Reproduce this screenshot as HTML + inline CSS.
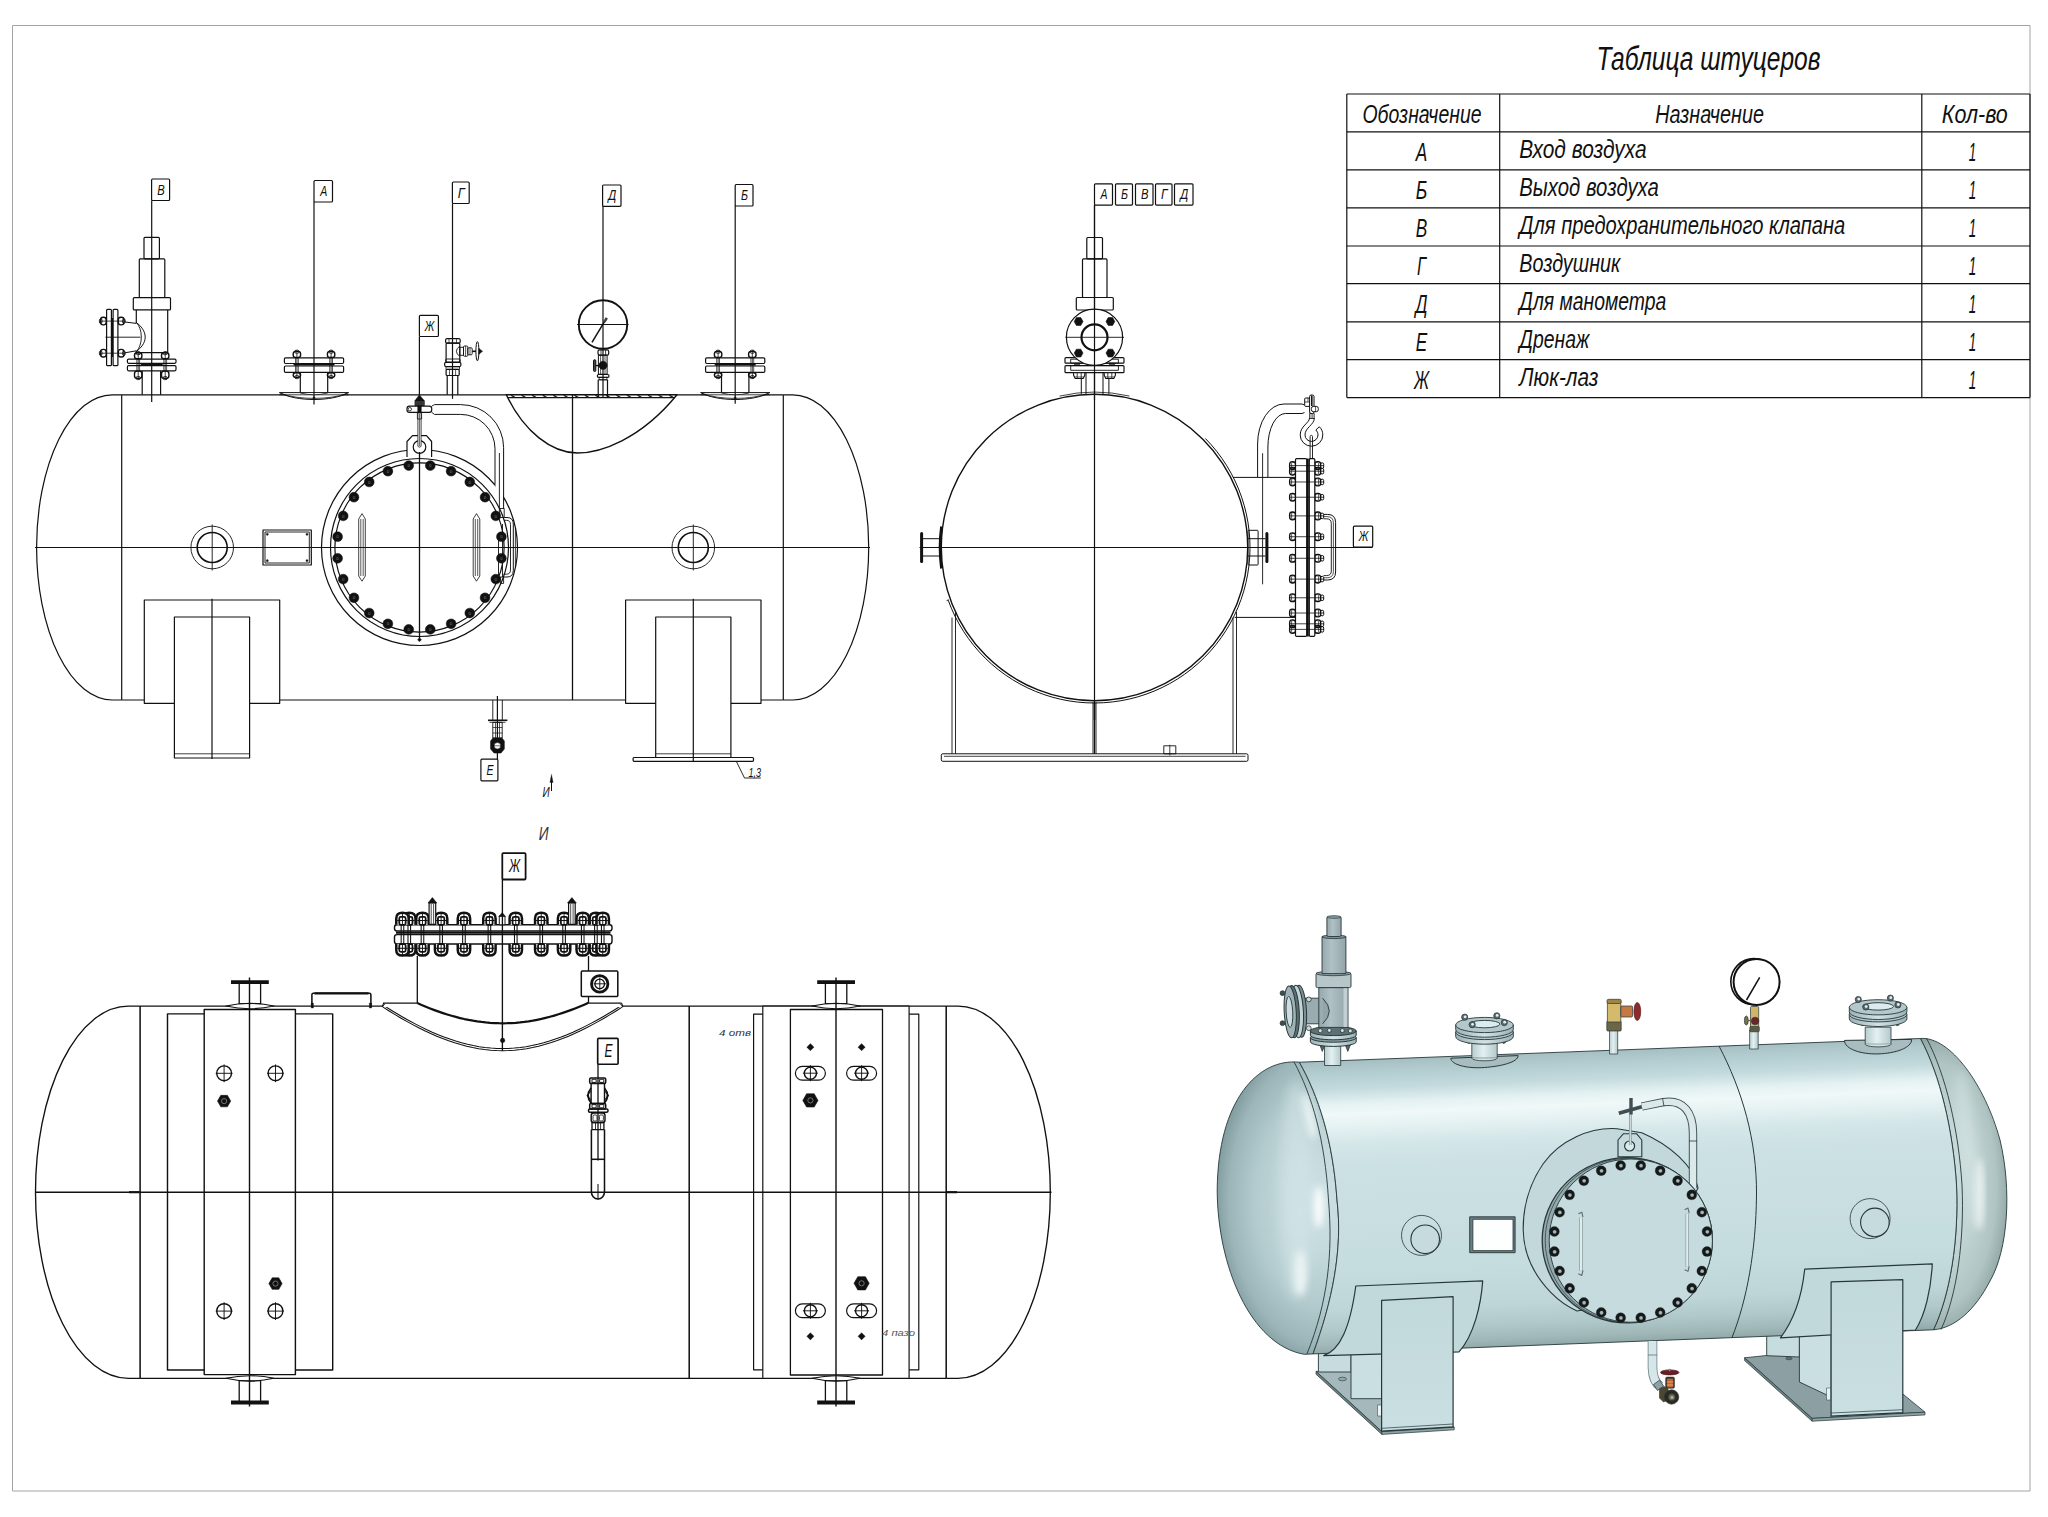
<!DOCTYPE html>
<html><head><meta charset="utf-8"><title>Чертёж</title>
<style>
html,body{margin:0;padding:0;background:#fff;}
body{width:2048px;height:1517px;overflow:hidden;}
svg{display:block;}
svg text{font-family:"Liberation Sans",sans-serif;font-style:italic;fill:#111;stroke:none;}
</style></head><body>
<svg width="2048" height="1517" viewBox="0 0 2048 1517">
<rect x="0" y="0" width="2048" height="1517" fill="#fff" stroke="none"/>
<defs>
<linearGradient id="gBody" gradientUnits="userSpaceOnUse" x1="1610" y1="1049" x2="1622" y2="1343">
<stop offset="0" stop-color="#a3bdc1"/><stop offset="0.04" stop-color="#b1cbcf"/><stop offset="0.10" stop-color="#c4dbde"/>
<stop offset="0.148" stop-color="#e4f1f2"/><stop offset="0.184" stop-color="#f0f8f8"/><stop offset="0.235" stop-color="#e3f0f1"/><stop offset="0.29" stop-color="#d3e6e8"/><stop offset="0.365" stop-color="#cce1e4"/>
<stop offset="0.51" stop-color="#c9dfe2"/><stop offset="0.73" stop-color="#c5dcdf"/><stop offset="0.85" stop-color="#bfd6d8"/><stop offset="0.92" stop-color="#b1c8ca"/><stop offset="0.97" stop-color="#a0b7b8"/><stop offset="1" stop-color="#90a7a7"/>
</linearGradient>
<radialGradient id="gHeadL" gradientUnits="userSpaceOnUse" cx="1322" cy="1200" r="135" gradientTransform="translate(1322 1200) scale(0.8 1.25) translate(-1322 -1200)">
<stop offset="0" stop-color="#cde1e4"/><stop offset="0.3" stop-color="#c4dadd"/><stop offset="0.62" stop-color="#b3cbce"/><stop offset="0.86" stop-color="#9bb5b8"/><stop offset="1" stop-color="#7f9a9d"/>
</radialGradient>
<radialGradient id="gHeadR" gradientUnits="userSpaceOnUse" cx="1940" cy="1185" r="120" gradientTransform="translate(1940 1185) scale(0.6 1.3) translate(-1940 -1185)">
<stop offset="0" stop-color="#cbdedf"/><stop offset="0.45" stop-color="#c2d5d4"/><stop offset="0.78" stop-color="#b0c5c3"/><stop offset="0.93" stop-color="#97adab"/><stop offset="1" stop-color="#7f9593"/>
</radialGradient>
<linearGradient id="gPipe" x1="0" y1="0" x2="1" y2="0"><stop offset="0" stop-color="#b8cdd0"/><stop offset="0.45" stop-color="#e4f0f1"/><stop offset="1" stop-color="#b4c9cc"/></linearGradient>
<linearGradient id="gValve" x1="0" y1="0" x2="1" y2="0"><stop offset="0" stop-color="#8b9da1"/><stop offset="0.4" stop-color="#aebfc3"/><stop offset="1" stop-color="#85979b"/></linearGradient>
<linearGradient id="gValve2" x1="0" y1="0" x2="1" y2="0"><stop offset="0" stop-color="#96a8ad"/><stop offset="0.4" stop-color="#b0c1c5"/><stop offset="1" stop-color="#93a5aa"/></linearGradient>
<linearGradient id="gFl" x1="0" y1="0" x2="1" y2="0"><stop offset="0" stop-color="#9db1b4"/><stop offset="0.5" stop-color="#d3e2e4"/><stop offset="1" stop-color="#9db1b4"/></linearGradient>
<linearGradient id="gLeg" x1="0" y1="0" x2="0" y2="1"><stop offset="0" stop-color="#c2d9dc"/><stop offset="1" stop-color="#c9dfe2"/></linearGradient>
<filter id="blur3" x="-50%" y="-50%" width="200%" height="200%"><feGaussianBlur stdDeviation="3.5"/></filter>
<filter id="blur6" x="-50%" y="-50%" width="200%" height="200%"><feGaussianBlur stdDeviation="6"/></filter>
<clipPath id="cHeadL"><path d="M1299.4,1062.2 C1258,1058 1218,1100 1217.2,1190 C1217.4,1265 1250,1345 1304.3,1354.3 L1313,1353.9 C1332,1302 1343,1250 1337,1200 C1333,1140 1318,1095 1299.4,1062.2 Z"/></clipPath>
<clipPath id="cHeadR"><path d="M1920.4,1038.5 C1950,1036 1985,1085 2000,1140 C2012,1190 2008,1250 1990,1281 C1975,1310 1955,1328 1933.5,1329.8 C1950,1295 1959,1240 1956.5,1185 C1953,1130 1940,1075 1920.4,1038.5 Z"/></clipPath>
</defs>
<g fill="none" stroke="#111" stroke-width="1.2" stroke-linecap="butt" stroke-linejoin="round">
<rect x="12.5" y="25.5" width="2017.5" height="1465.5" stroke="#9a9a9a" stroke-width="0.9"/>
<path d="M121.7,394.8 H112.2 A75.6,152.6 0 0 0 112.2,700.0 H121.7"/>
<path d="M783.3,394.8 H792.8 A75.9,152.6 0 0 1 792.8,700.0 H783.3"/>
<line x1="121.70" y1="394.80" x2="783.30" y2="394.80"/>
<line x1="121.70" y1="700.00" x2="783.30" y2="700.00"/>
<line x1="121.70" y1="394.80" x2="121.70" y2="700.00"/>
<line x1="783.30" y1="394.80" x2="783.30" y2="700.00"/>
<line x1="572.50" y1="394.80" x2="572.50" y2="700.00" stroke-width="1.30"/>
<line x1="35.00" y1="547.50" x2="870.00" y2="547.50"/>
<rect x="144.30" y="600.00" width="135.40" height="103.30" fill="#fff"/>
<rect x="174.40" y="617.00" width="75.20" height="141.00" fill="#fff"/>
<line x1="174.40" y1="753.80" x2="249.60" y2="753.80" stroke-width="0.80"/>
<line x1="212.00" y1="598.80" x2="212.00" y2="759.00"/>
<rect x="625.60" y="600.00" width="135.40" height="103.30" fill="#fff"/>
<rect x="655.70" y="617.00" width="75.20" height="141.00" fill="#fff"/>
<line x1="655.70" y1="753.80" x2="730.90" y2="753.80" stroke-width="0.80"/>
<line x1="693.30" y1="598.80" x2="693.30" y2="762.00"/>
<rect x="633.10" y="757.50" width="120.40" height="3.80" fill="#fff" rx="1"/>
<line x1="693.30" y1="757.00" x2="693.30" y2="762.00"/>
<path d="M736.3,761.3 L744.5,778 H760.8" stroke-width="0.90"/>
<text x="748.4" y="776.8" font-size="12.6" text-anchor="start" textLength="12.6" lengthAdjust="spacingAndGlyphs">1,3</text>
<circle cx="212.20" cy="547.50" r="21.30" stroke-width="0.90"/>
<circle cx="212.20" cy="547.50" r="15.00" stroke-width="1.60"/>
<line x1="212.20" y1="524.50" x2="212.20" y2="570.50" stroke-width="0.90"/>
<circle cx="693.30" cy="547.50" r="21.30" stroke-width="0.90"/>
<circle cx="693.30" cy="547.50" r="15.00" stroke-width="1.60"/>
<line x1="693.30" y1="524.50" x2="693.30" y2="570.50" stroke-width="0.90"/>
<rect x="263.00" y="530.00" width="48.30" height="35.00"/>
<rect x="265.00" y="532.00" width="44.30" height="31.00" stroke-width="0.90"/>
<circle cx="267.30" cy="534.30" r="1.10" stroke-width="0.30" fill="#111"/>
<circle cx="307.00" cy="534.30" r="1.10" stroke-width="0.30" fill="#111"/>
<circle cx="267.30" cy="560.70" r="1.10" stroke-width="0.30" fill="#111"/>
<circle cx="307.00" cy="560.70" r="1.10" stroke-width="0.30" fill="#111"/>
<circle cx="419.50" cy="547.50" r="98.00" fill="#fff"/>
<circle cx="419.50" cy="547.50" r="89.00"/>
<circle cx="419.50" cy="547.50" r="84.60"/>
<line x1="321.00" y1="547.50" x2="518.00" y2="547.50"/>
<path d="M495.4,448 H503.2 V500.2 L495.4,487 Z" fill="#fff" stroke="none"/>
<path d="M434.5,404.6 H460.6 A43,43 0 0 1 503.6,447.6 V508.5 M434.5,414.4 H460.6 A34.4,34.4 0 0 1 495,448.8 V484.7" stroke-width="1.00"/>
<line x1="499.40" y1="453.00" x2="499.40" y2="508.50" stroke-width="0.90"/>
<rect x="499.40" y="508.50" width="4.80" height="9.00" stroke-width="0.90"/>
<path d="M504.2,517.5 H507 Q513.3,517.5 513.3,524 V570.5 Q513.3,577 507,577 H503.6" stroke-width="1.00"/>
<path d="M504.2,520.3 H506.4 Q510.5,520.3 510.5,524.6 V570 Q510.5,574.2 506.4,574.2 H503.6" stroke-width="0.90"/>
<line x1="515.40" y1="528.00" x2="515.40" y2="567.00" stroke-width="0.80"/>
<path d="M498.5,536 V581 M502.5,524 V577" stroke-width="0.90"/>
<rect x="500.30" y="577.00" width="3.30" height="6.40" stroke-width="0.90"/>
<path d="M407,457 V441.5 L412.5,435.6 H426.5 L431.6,441.5 V457" fill="#fff"/>
<circle cx="419.50" cy="447.00" r="6.30" stroke-width="1.20"/>
<path d="M417.9,414 V446 A1.7,1.7 0 0 0 421.1,446 V414" stroke-width="0.80" fill="#fff"/>
<line x1="419.50" y1="414.00" x2="419.50" y2="446.00" stroke-width="0.60"/>
<circle cx="430.28" cy="465.61" r="4.90" stroke-width="0.50" fill="#111"/>
<text x="430.3" y="467.2" font-size="4.5" text-anchor="middle" style="fill:#777;font-style:normal">o</text>
<circle cx="451.11" cy="471.19" r="4.90" stroke-width="0.50" fill="#111"/>
<text x="451.1" y="472.8" font-size="4.5" text-anchor="middle" style="fill:#777;font-style:normal">o</text>
<circle cx="469.78" cy="481.97" r="4.90" stroke-width="0.50" fill="#111"/>
<text x="469.8" y="483.6" font-size="4.5" text-anchor="middle" style="fill:#777;font-style:normal">o</text>
<circle cx="485.03" cy="497.22" r="4.90" stroke-width="0.50" fill="#111"/>
<text x="485.0" y="498.8" font-size="4.5" text-anchor="middle" style="fill:#777;font-style:normal">o</text>
<circle cx="495.81" cy="515.89" r="4.90" stroke-width="0.50" fill="#111"/>
<text x="495.8" y="517.5" font-size="4.5" text-anchor="middle" style="fill:#777;font-style:normal">o</text>
<circle cx="501.39" cy="536.72" r="4.90" stroke-width="0.50" fill="#111"/>
<text x="501.4" y="538.3" font-size="4.5" text-anchor="middle" style="fill:#777;font-style:normal">o</text>
<circle cx="501.39" cy="558.28" r="4.90" stroke-width="0.50" fill="#111"/>
<text x="501.4" y="559.9" font-size="4.5" text-anchor="middle" style="fill:#777;font-style:normal">o</text>
<circle cx="495.81" cy="579.11" r="4.90" stroke-width="0.50" fill="#111"/>
<text x="495.8" y="580.7" font-size="4.5" text-anchor="middle" style="fill:#777;font-style:normal">o</text>
<circle cx="485.03" cy="597.78" r="4.90" stroke-width="0.50" fill="#111"/>
<text x="485.0" y="599.4" font-size="4.5" text-anchor="middle" style="fill:#777;font-style:normal">o</text>
<circle cx="469.78" cy="613.03" r="4.90" stroke-width="0.50" fill="#111"/>
<text x="469.8" y="614.6" font-size="4.5" text-anchor="middle" style="fill:#777;font-style:normal">o</text>
<circle cx="451.11" cy="623.81" r="4.90" stroke-width="0.50" fill="#111"/>
<text x="451.1" y="625.4" font-size="4.5" text-anchor="middle" style="fill:#777;font-style:normal">o</text>
<circle cx="430.28" cy="629.39" r="4.90" stroke-width="0.50" fill="#111"/>
<text x="430.3" y="631.0" font-size="4.5" text-anchor="middle" style="fill:#777;font-style:normal">o</text>
<circle cx="408.72" cy="629.39" r="4.90" stroke-width="0.50" fill="#111"/>
<text x="408.7" y="631.0" font-size="4.5" text-anchor="middle" style="fill:#777;font-style:normal">o</text>
<circle cx="387.89" cy="623.81" r="4.90" stroke-width="0.50" fill="#111"/>
<text x="387.9" y="625.4" font-size="4.5" text-anchor="middle" style="fill:#777;font-style:normal">o</text>
<circle cx="369.22" cy="613.03" r="4.90" stroke-width="0.50" fill="#111"/>
<text x="369.2" y="614.6" font-size="4.5" text-anchor="middle" style="fill:#777;font-style:normal">o</text>
<circle cx="353.97" cy="597.78" r="4.90" stroke-width="0.50" fill="#111"/>
<text x="354.0" y="599.4" font-size="4.5" text-anchor="middle" style="fill:#777;font-style:normal">o</text>
<circle cx="343.19" cy="579.11" r="4.90" stroke-width="0.50" fill="#111"/>
<text x="343.2" y="580.7" font-size="4.5" text-anchor="middle" style="fill:#777;font-style:normal">o</text>
<circle cx="337.61" cy="558.28" r="4.90" stroke-width="0.50" fill="#111"/>
<text x="337.6" y="559.9" font-size="4.5" text-anchor="middle" style="fill:#777;font-style:normal">o</text>
<circle cx="337.61" cy="536.72" r="4.90" stroke-width="0.50" fill="#111"/>
<text x="337.6" y="538.3" font-size="4.5" text-anchor="middle" style="fill:#777;font-style:normal">o</text>
<circle cx="343.19" cy="515.89" r="4.90" stroke-width="0.50" fill="#111"/>
<text x="343.2" y="517.5" font-size="4.5" text-anchor="middle" style="fill:#777;font-style:normal">o</text>
<circle cx="353.97" cy="497.22" r="4.90" stroke-width="0.50" fill="#111"/>
<text x="354.0" y="498.8" font-size="4.5" text-anchor="middle" style="fill:#777;font-style:normal">o</text>
<circle cx="369.22" cy="481.97" r="4.90" stroke-width="0.50" fill="#111"/>
<text x="369.2" y="483.6" font-size="4.5" text-anchor="middle" style="fill:#777;font-style:normal">o</text>
<circle cx="387.89" cy="471.19" r="4.90" stroke-width="0.50" fill="#111"/>
<text x="387.9" y="472.8" font-size="4.5" text-anchor="middle" style="fill:#777;font-style:normal">o</text>
<circle cx="408.72" cy="465.61" r="4.90" stroke-width="0.50" fill="#111"/>
<text x="408.7" y="467.2" font-size="4.5" text-anchor="middle" style="fill:#777;font-style:normal">o</text>
<line x1="419.50" y1="452.00" x2="419.50" y2="640.00" stroke-width="1.30"/>
<path d="M419.5,637.8 l2,2 l-2,2 l-2,-2 z" stroke-width="0.40" fill="#111"/>
<path d="M358.7,519 L362,513.6 L365.3,519 V576 L362,581.2 L358.7,576 Z" stroke-width="0.80"/>
<line x1="360.80" y1="519.00" x2="360.80" y2="576.00" stroke-width="0.70"/>
<line x1="363.20" y1="519.00" x2="363.20" y2="576.00" stroke-width="0.70"/>
<path d="M473.2,519 L476.5,513.6 L479.8,519 V576 L476.5,581.2 L473.2,576 Z" stroke-width="0.80"/>
<line x1="475.30" y1="519.00" x2="475.30" y2="576.00" stroke-width="0.70"/>
<line x1="477.70" y1="519.00" x2="477.70" y2="576.00" stroke-width="0.70"/>
<path d="M419.4,394.7 L423,399.3 L424.4,400.6 V405.8 H414.9 V400.6 L416,399.3 Z" stroke-width="0.50" fill="#111"/>
<line x1="415.20" y1="402.00" x2="424.20" y2="402.00" stroke-width="0.50" stroke="#aaa"/>
<line x1="415.20" y1="404.00" x2="424.20" y2="404.00" stroke-width="0.50" stroke="#aaa"/>
<rect x="407.00" y="406.20" width="24.70" height="6.10" fill="#fff" rx="2.4"/>
<circle cx="409.80" cy="409.20" r="1.70" stroke-width="0.80"/>
<path d="M431.7,406.2 L434.5,404.6 M431.7,412.3 L434.5,414.4" stroke-width="0.90"/>
<rect x="417.60" y="405.80" width="3.80" height="7.20" stroke-width="0.30" fill="#111"/>
<rect x="417.40" y="413.00" width="4.20" height="6.00" stroke-width="0.80"/>
<path d="M506.3,394.8 H677 C640,440 600,453 577.5,453 C552,453 524,432 506.3,394.8 Z" stroke-width="1.40" fill="#fff"/>
<path d="M507.6,397.6 H674.8" stroke-width="1.10"/>
<line x1="511.00" y1="395.20" x2="514.80" y2="397.30" stroke-width="1.50" stroke="#222"/>
<line x1="521.55" y1="395.20" x2="525.35" y2="397.30" stroke-width="1.50" stroke="#222"/>
<line x1="532.10" y1="395.20" x2="535.90" y2="397.30" stroke-width="1.50" stroke="#222"/>
<line x1="542.65" y1="395.20" x2="546.45" y2="397.30" stroke-width="1.50" stroke="#222"/>
<line x1="553.20" y1="395.20" x2="557.00" y2="397.30" stroke-width="1.50" stroke="#222"/>
<line x1="563.75" y1="395.20" x2="567.55" y2="397.30" stroke-width="1.50" stroke="#222"/>
<line x1="574.30" y1="395.20" x2="578.10" y2="397.30" stroke-width="1.50" stroke="#222"/>
<line x1="584.85" y1="395.20" x2="588.65" y2="397.30" stroke-width="1.50" stroke="#222"/>
<line x1="595.40" y1="395.20" x2="599.20" y2="397.30" stroke-width="1.50" stroke="#222"/>
<line x1="605.95" y1="395.20" x2="609.75" y2="397.30" stroke-width="1.50" stroke="#222"/>
<line x1="616.50" y1="395.20" x2="620.30" y2="397.30" stroke-width="1.50" stroke="#222"/>
<line x1="627.05" y1="395.20" x2="630.85" y2="397.30" stroke-width="1.50" stroke="#222"/>
<line x1="637.60" y1="395.20" x2="641.40" y2="397.30" stroke-width="1.50" stroke="#222"/>
<line x1="648.15" y1="395.20" x2="651.95" y2="397.30" stroke-width="1.50" stroke="#222"/>
<line x1="658.70" y1="395.20" x2="662.50" y2="397.30" stroke-width="1.50" stroke="#222"/>
<line x1="669.25" y1="395.20" x2="673.05" y2="397.30" stroke-width="1.50" stroke="#222"/>
<line x1="572.50" y1="394.80" x2="572.50" y2="453.00" stroke-width="1.30"/>
<rect x="144.00" y="237.30" width="15.40" height="21.50" rx="1"/>
<rect x="139.30" y="258.80" width="25.50" height="38.70" rx="1"/>
<rect x="133.30" y="297.60" width="37.20" height="12.30" rx="1"/>
<path d="M136.3,309.9 V323 M136.3,351 V352.6 H167.7 V309.9"/>
<path d="M136.3,322.5 C141,326 145.2,331 145.2,337.2 C145.2,343 141,348 136.3,351.5" stroke-width="1.00"/>
<path d="M136.3,322.5 C143,329 143,345 136.3,351.5" stroke-width="0.90"/>
<line x1="105.40" y1="337.20" x2="140.40" y2="337.20" stroke-width="0.90"/>
<path d="M125,322 L136.3,323.4 M125,352.8 L136.3,350.8" stroke-width="1.00"/>
<rect x="106.60" y="309.30" width="4.80" height="56.40" rx="1"/>
<rect x="113.10" y="309.30" width="4.80" height="56.40" rx="1"/>
<line x1="112.20" y1="318.00" x2="112.20" y2="357.00" stroke-width="1.80"/>
<line x1="99.50" y1="321.10" x2="125.00" y2="321.10" stroke-width="0.80"/>
<rect x="100.60" y="317.30" width="5.60" height="7.60" stroke-width="1.40" rx="2.6"/>
<rect x="118.30" y="317.30" width="5.70" height="7.60" stroke-width="1.40" rx="2.6"/>
<rect x="99.40" y="318.90" width="2.60" height="4.40" stroke-width="0.90" rx="1.3"/>
<rect x="122.60" y="318.90" width="2.60" height="4.40" stroke-width="0.90" rx="1.3"/>
<line x1="99.50" y1="353.20" x2="125.00" y2="353.20" stroke-width="0.80"/>
<rect x="100.60" y="349.40" width="5.60" height="7.60" stroke-width="1.40" rx="2.6"/>
<rect x="118.30" y="349.40" width="5.70" height="7.60" stroke-width="1.40" rx="2.6"/>
<rect x="99.40" y="351.00" width="2.60" height="4.40" stroke-width="0.90" rx="1.3"/>
<rect x="122.60" y="351.00" width="2.60" height="4.40" stroke-width="0.90" rx="1.3"/>
<path d="M142.2,370.8 V394.8 M160.6,370.8 V394.8"/>
<rect x="127.40" y="359.10" width="48.60" height="4.20" fill="#fff" rx="1.2"/>
<rect x="127.40" y="365.70" width="48.60" height="5.10" fill="#fff" rx="1.2"/>
<line x1="140.70" y1="364.50" x2="162.70" y2="364.50" stroke-width="1.70"/>
<line x1="138.20" y1="351.60" x2="138.20" y2="379.60" stroke-width="0.80"/>
<rect x="134.50" y="352.80" width="7.40" height="6.00" stroke-width="1.40" rx="2.6"/>
<rect x="134.50" y="371.10" width="7.40" height="7.30" stroke-width="1.40" rx="2.6"/>
<rect x="136.00" y="351.60" width="4.40" height="3.00" stroke-width="0.90" rx="1.5"/>
<rect x="136.00" y="376.60" width="4.40" height="3.00" stroke-width="0.90" rx="1.5"/>
<line x1="136.80" y1="359.10" x2="136.80" y2="370.80" stroke-width="0.70"/>
<line x1="139.60" y1="359.10" x2="139.60" y2="370.80" stroke-width="0.70"/>
<line x1="165.20" y1="351.60" x2="165.20" y2="379.60" stroke-width="0.80"/>
<rect x="161.50" y="352.80" width="7.40" height="6.00" stroke-width="1.40" rx="2.6"/>
<rect x="161.50" y="371.10" width="7.40" height="7.30" stroke-width="1.40" rx="2.6"/>
<rect x="163.00" y="351.60" width="4.40" height="3.00" stroke-width="0.90" rx="1.5"/>
<rect x="163.00" y="376.60" width="4.40" height="3.00" stroke-width="0.90" rx="1.5"/>
<line x1="163.80" y1="359.10" x2="163.80" y2="370.80" stroke-width="0.70"/>
<line x1="166.60" y1="359.10" x2="166.60" y2="370.80" stroke-width="0.70"/>
<line x1="151.70" y1="200.50" x2="151.70" y2="401.90"/>
<rect x="151.60" y="179.00" width="18.00" height="21.50" fill="#fff" rx="1"/>
<text x="161.1" y="194.5" font-size="15" text-anchor="middle" textLength="7.5" lengthAdjust="spacingAndGlyphs">В</text>
<path d="M300.3,372.4 V393 M327.7,372.4 V393"/>
<path d="M279.4,392.6 H348.6 C332,401.8 296,401.8 279.4,392.6 Z" stroke-width="1.00" fill="#fff"/>
<path d="M281.5,393.6 C298,400 330,400 346.5,393.6" stroke-width="0.80"/>
<line x1="279.40" y1="394.80" x2="348.60" y2="394.80" stroke-width="0.80"/>
<path d="M300.3,393 Q314,396.5 327.7,393" stroke-width="0.80" fill="#fff"/>
<rect x="284.40" y="357.80" width="59.20" height="5.70" fill="#fff" rx="1.2"/>
<rect x="284.40" y="366.00" width="59.20" height="6.40" fill="#fff" rx="1.2"/>
<line x1="293.50" y1="364.75" x2="334.50" y2="364.75" stroke-width="1.70"/>
<line x1="296.90" y1="350.20" x2="296.90" y2="378.60" stroke-width="0.80"/>
<rect x="293.20" y="351.40" width="7.40" height="6.10" stroke-width="1.40" rx="2.6"/>
<rect x="293.20" y="372.70" width="7.40" height="4.70" stroke-width="1.40" rx="2.6"/>
<rect x="294.70" y="350.20" width="4.40" height="3.00" stroke-width="0.90" rx="1.5"/>
<rect x="294.70" y="375.60" width="4.40" height="3.00" stroke-width="0.90" rx="1.5"/>
<line x1="295.50" y1="357.80" x2="295.50" y2="372.40" stroke-width="0.70"/>
<line x1="298.30" y1="357.80" x2="298.30" y2="372.40" stroke-width="0.70"/>
<line x1="331.10" y1="350.20" x2="331.10" y2="378.60" stroke-width="0.80"/>
<rect x="327.40" y="351.40" width="7.40" height="6.10" stroke-width="1.40" rx="2.6"/>
<rect x="327.40" y="372.70" width="7.40" height="4.70" stroke-width="1.40" rx="2.6"/>
<rect x="328.90" y="350.20" width="4.40" height="3.00" stroke-width="0.90" rx="1.5"/>
<rect x="328.90" y="375.60" width="4.40" height="3.00" stroke-width="0.90" rx="1.5"/>
<line x1="329.70" y1="357.80" x2="329.70" y2="372.40" stroke-width="0.70"/>
<line x1="332.50" y1="357.80" x2="332.50" y2="372.40" stroke-width="0.70"/>
<line x1="314.00" y1="201.50" x2="314.00" y2="404.40"/>
<path d="M314,396.5 l1.3,1.3 l-1.3,1.3 l-1.3,-1.3 z" stroke-width="0.30" fill="#111"/>
<rect x="314.00" y="180.50" width="18.50" height="21.50" fill="#fff" rx="1"/>
<text x="323.8" y="196.0" font-size="15" text-anchor="middle" textLength="7.0" lengthAdjust="spacingAndGlyphs">А</text>
<path d="M721.5,372.4 V393 M748.9000000000001,372.4 V393"/>
<path d="M700.6,392.6 H769.8000000000001 C753.2,401.8 717.2,401.8 700.6,392.6 Z" stroke-width="1.00" fill="#fff"/>
<path d="M702.7,393.6 C719.2,400 751.2,400 767.7,393.6" stroke-width="0.80"/>
<line x1="700.60" y1="394.80" x2="769.80" y2="394.80" stroke-width="0.80"/>
<path d="M721.5,393 Q735.2,396.5 748.9000000000001,393" stroke-width="0.80" fill="#fff"/>
<rect x="705.60" y="357.80" width="59.20" height="5.70" fill="#fff" rx="1.2"/>
<rect x="705.60" y="366.00" width="59.20" height="6.40" fill="#fff" rx="1.2"/>
<line x1="714.70" y1="364.75" x2="755.70" y2="364.75" stroke-width="1.70"/>
<line x1="718.10" y1="350.20" x2="718.10" y2="378.60" stroke-width="0.80"/>
<rect x="714.40" y="351.40" width="7.40" height="6.10" stroke-width="1.40" rx="2.6"/>
<rect x="714.40" y="372.70" width="7.40" height="4.70" stroke-width="1.40" rx="2.6"/>
<rect x="715.90" y="350.20" width="4.40" height="3.00" stroke-width="0.90" rx="1.5"/>
<rect x="715.90" y="375.60" width="4.40" height="3.00" stroke-width="0.90" rx="1.5"/>
<line x1="716.70" y1="357.80" x2="716.70" y2="372.40" stroke-width="0.70"/>
<line x1="719.50" y1="357.80" x2="719.50" y2="372.40" stroke-width="0.70"/>
<line x1="752.30" y1="350.20" x2="752.30" y2="378.60" stroke-width="0.80"/>
<rect x="748.60" y="351.40" width="7.40" height="6.10" stroke-width="1.40" rx="2.6"/>
<rect x="748.60" y="372.70" width="7.40" height="4.70" stroke-width="1.40" rx="2.6"/>
<rect x="750.10" y="350.20" width="4.40" height="3.00" stroke-width="0.90" rx="1.5"/>
<rect x="750.10" y="375.60" width="4.40" height="3.00" stroke-width="0.90" rx="1.5"/>
<line x1="750.90" y1="357.80" x2="750.90" y2="372.40" stroke-width="0.70"/>
<line x1="753.70" y1="357.80" x2="753.70" y2="372.40" stroke-width="0.70"/>
<line x1="735.20" y1="205.50" x2="735.20" y2="403.80"/>
<path d="M735.2,396.5 l1.3,1.3 l-1.3,1.3 l-1.3,-1.3 z" stroke-width="0.30" fill="#111"/>
<rect x="735.20" y="184.50" width="17.80" height="21.50" fill="#fff" rx="1"/>
<text x="744.6" y="200.0" font-size="15" text-anchor="middle" textLength="7.0" lengthAdjust="spacingAndGlyphs">Б</text>
<path d="M447.2,375.5 V394.8 M457.8,375.5 V394.8"/>
<rect x="446.10" y="369.40" width="13.10" height="6.10" rx="1"/>
<line x1="449.50" y1="369.40" x2="449.50" y2="375.50" stroke-width="0.70"/>
<line x1="455.60" y1="369.40" x2="455.60" y2="375.50" stroke-width="0.70"/>
<rect x="444.60" y="362.30" width="16.30" height="4.30" rx="1.5"/>
<rect x="446.00" y="366.60" width="13.50" height="2.80" stroke-width="0.80"/>
<rect x="446.10" y="343.20" width="13.70" height="19.10" rx="1"/>
<rect x="445.60" y="338.70" width="14.60" height="4.50" rx="1.5"/>
<line x1="449.00" y1="338.70" x2="449.00" y2="343.20" stroke-width="0.70"/>
<line x1="456.50" y1="338.70" x2="456.50" y2="343.20" stroke-width="0.70"/>
<rect x="445.60" y="359.00" width="14.60" height="3.30" stroke-width="0.90" rx="1.2"/>
<path d="M459.8,346 Q453,351.3 459.8,356.5" stroke-width="0.90"/>
<rect x="459.80" y="347.30" width="3.70" height="8.00" stroke-width="0.90"/>
<rect x="463.50" y="346.00" width="4.30" height="10.30" stroke-width="0.90" rx="1"/>
<rect x="467.80" y="347.80" width="4.40" height="7.00" stroke-width="0.90" rx="1"/>
<line x1="465.60" y1="346.00" x2="465.60" y2="356.30" stroke-width="0.70"/>
<line x1="470.00" y1="347.80" x2="470.00" y2="354.80" stroke-width="0.70"/>
<line x1="472.20" y1="351.30" x2="476.00" y2="351.30" stroke-width="1.60"/>
<ellipse cx="477.4" cy="351.2" rx="1.5" ry="9.6" stroke-width="1"/>
<path d="M478.7,348.2 L482.6,351.3 L478.7,354.4 Z" stroke-width="0.40" fill="#111"/>
<line x1="452.50" y1="203.50" x2="452.50" y2="398.80"/>
<rect x="452.40" y="182.00" width="16.80" height="21.50" fill="#fff" rx="1"/>
<text x="461.3" y="197.5" font-size="15" text-anchor="middle" textLength="7.0" lengthAdjust="spacingAndGlyphs">Г</text>
<circle cx="603.00" cy="324.50" r="24.20" stroke-width="1.90" fill="#fff"/>
<line x1="577.20" y1="324.50" x2="628.60" y2="324.50" stroke-width="1.00"/>
<line x1="592.00" y1="342.30" x2="606.60" y2="318.20" stroke-width="1.50"/>
<line x1="604.40" y1="321.80" x2="606.80" y2="317.80" stroke-width="2.60" stroke="#444"/>
<line x1="603.00" y1="206.00" x2="603.00" y2="398.00"/>
<path d="M598.2,379.8 V397.4 M607.5,379.8 V397.4"/>
<line x1="598.20" y1="397.40" x2="607.50" y2="397.40" stroke-width="0.90"/>
<line x1="598.20" y1="379.80" x2="607.50" y2="379.80" stroke-width="0.90"/>
<rect x="598.00" y="349.90" width="10.70" height="5.30" stroke-width="1.20" rx="1.6"/>
<line x1="601.00" y1="349.90" x2="601.00" y2="355.20" stroke-width="0.80"/>
<line x1="605.60" y1="349.90" x2="605.60" y2="355.20" stroke-width="0.80"/>
<rect x="598.40" y="355.20" width="8.70" height="19.00" stroke-width="1.00"/>
<line x1="600.60" y1="355.20" x2="600.60" y2="374.20" stroke-width="0.70"/>
<line x1="605.00" y1="355.20" x2="605.00" y2="374.20" stroke-width="0.70"/>
<rect x="597.30" y="374.50" width="11.70" height="2.90" stroke-width="1.20" rx="1.4"/>
<rect x="599.20" y="377.40" width="7.70" height="2.40" stroke-width="0.80"/>
<circle cx="603.00" cy="365.40" r="4.20" stroke-width="0.40" fill="#111"/>
<line x1="595.80" y1="365.60" x2="599.00" y2="365.60" stroke-width="1.40"/>
<rect x="593.50" y="359.70" width="2.30" height="11.80" stroke-width="1.00" fill="#444" rx="1.1"/>
<rect x="602.60" y="185.00" width="18.40" height="21.30" fill="#fff" rx="1"/>
<text x="612.3" y="200.3" font-size="15" text-anchor="middle" textLength="8.0" lengthAdjust="spacingAndGlyphs">Д</text>
<line x1="419.40" y1="336.50" x2="419.40" y2="394.90"/>
<rect x="419.40" y="315.30" width="19.00" height="21.20" fill="#fff" rx="1"/>
<text x="429.4" y="330.6" font-size="15" text-anchor="middle" textLength="9.5" lengthAdjust="spacingAndGlyphs">Ж</text>
<path d="M492.8,700 V720 M502.3,700 V720" stroke-width="0.90"/>
<line x1="497.40" y1="696.00" x2="497.40" y2="760.00"/>
<line x1="488.00" y1="720.30" x2="507.40" y2="720.30" stroke-width="1.60"/>
<line x1="489.50" y1="722.30" x2="505.50" y2="722.30" stroke-width="0.80"/>
<rect x="492.80" y="722.30" width="9.40" height="15.70" stroke-width="0.90"/>
<line x1="492.80" y1="727.50" x2="502.20" y2="727.50" stroke-width="0.70"/>
<line x1="492.80" y1="733.00" x2="502.20" y2="733.00" stroke-width="0.70"/>
<line x1="495.50" y1="722.30" x2="495.50" y2="738.00" stroke-width="0.70"/>
<line x1="499.50" y1="722.30" x2="499.50" y2="738.00" stroke-width="0.70"/>
<path d="M490.6,741 L493,738 H502 L504.3,741 V749 L501,753 H494 L490.6,749 Z" stroke-width="0.60" fill="#111"/>
<circle cx="497.40" cy="745.80" r="3.30" stroke-width="0.60" fill="#fff"/>
<line x1="494.10" y1="745.80" x2="500.70" y2="745.80" stroke-width="0.60"/>
<rect x="480.90" y="759.20" width="17.00" height="21.60" fill="#fff" rx="1"/>
<text x="489.9" y="774.8" font-size="15" text-anchor="middle" textLength="7.0" lengthAdjust="spacingAndGlyphs">Е</text>
<line x1="551.50" y1="777.00" x2="551.50" y2="791.00" stroke-width="1.00"/>
<path d="M551.5,774.2 L549.9,782.5 H553.1 Z" stroke-width="0.30" fill="#111"/>
<text x="542.6" y="797.2" font-size="14.6" text-anchor="start" textLength="7.2" lengthAdjust="spacingAndGlyphs">И</text>
<text x="538.8" y="839.8" font-size="18" text-anchor="start" textLength="9.8" lengthAdjust="spacingAndGlyphs" style="fill:#333">И</text>
<line x1="952.00" y1="617.50" x2="952.00" y2="753.80" stroke-width="0.90"/>
<line x1="955.50" y1="612.00" x2="955.50" y2="753.80" stroke-width="0.90"/>
<line x1="1233.00" y1="617.50" x2="1233.00" y2="753.80" stroke-width="0.90"/>
<line x1="1236.50" y1="612.00" x2="1236.50" y2="753.80" stroke-width="0.90"/>
<rect x="941.30" y="753.80" width="306.70" height="7.50" stroke-width="1.00" rx="1.5"/>
<line x1="944.00" y1="756.30" x2="1245.50" y2="756.30" stroke-width="0.80"/>
<rect x="1163.80" y="745.80" width="12.00" height="8.00" stroke-width="0.90"/>
<line x1="1169.80" y1="744.80" x2="1169.80" y2="755.50" stroke-width="0.80"/>
<line x1="1233.00" y1="477.40" x2="1295.00" y2="477.40" stroke-width="1.00"/>
<line x1="1234.60" y1="617.40" x2="1295.00" y2="617.40" stroke-width="1.00"/>
<path d="M1257.6,477 V444 A26.4,40 0 0 1 1284,404 H1302 l2.5,1 M1267.9,477 V447 A17.6,33.5 0 0 1 1285.5,413.5 H1302 l2.5,-1" stroke-width="1.00"/>
<line x1="1262.60" y1="453.20" x2="1262.60" y2="584.30" stroke-width="0.90"/>
<circle cx="1094.50" cy="547.50" r="153.20" stroke-width="1.40" fill="#fff"/>
<path d="M1205.41,438.51 A155.5,155.5 0 1 1 948.19,600.17" stroke-width="1.00"/>
<path d="M948.8,599.8 l-2.2,0.8" stroke-width="0.90"/>
<line x1="1093.00" y1="702.00" x2="1093.00" y2="753.80" stroke-width="0.90"/>
<line x1="1096.00" y1="702.00" x2="1096.00" y2="753.80" stroke-width="0.90"/>
<line x1="1094.50" y1="703.00" x2="1094.50" y2="720.00" stroke-width="1.60"/>
<line x1="919.50" y1="547.50" x2="1372.50" y2="547.50"/>
<line x1="1094.50" y1="205.00" x2="1094.50" y2="753.80"/>
<path d="M941.43,568.47 A154.5,154.5 0 0 1 941.43,526.53" stroke-width="2.60"/>
<path d="M923,538.7 H940.5 M923,556 H940.5" stroke-width="1.00"/>
<line x1="921.6" y1="533.5" x2="921.6" y2="561.5" stroke-width="3" stroke-linecap="round"/>
<rect x="1248.00" y="530.30" width="10.10" height="34.70" stroke-width="1.00" rx="0.8"/>
<path d="M1248,538.7 H1265.5 M1248,556 H1265.5" stroke-width="1.00"/>
<line x1="1266.9" y1="533.5" x2="1266.9" y2="561.5" stroke-width="3" stroke-linecap="round"/>
<rect x="1086.80" y="237.50" width="15.70" height="21.30" rx="1"/>
<rect x="1082.50" y="258.90" width="24.50" height="38.60" rx="1"/>
<rect x="1076.30" y="297.50" width="37.00" height="12.50" rx="1"/>
<rect x="1065.00" y="357.60" width="59.00" height="5.60" fill="#fff" rx="1"/>
<rect x="1065.00" y="365.60" width="59.00" height="7.10" fill="#fff" rx="1"/>
<rect x="1070.70" y="359.20" width="47.70" height="4.00" stroke-width="0.90"/>
<rect x="1070.70" y="365.60" width="47.70" height="4.70" stroke-width="0.90"/>
<rect x="1078.40" y="363.40" width="1.20" height="2.00" stroke-width="0.30" fill="#111"/>
<rect x="1076.40" y="363.40" width="1.20" height="2.00" stroke-width="0.30" fill="#111"/>
<rect x="1074.40" y="363.40" width="1.20" height="2.00" stroke-width="0.30" fill="#111"/>
<rect x="1109.40" y="363.40" width="1.20" height="2.00" stroke-width="0.30" fill="#111"/>
<rect x="1111.40" y="363.40" width="1.20" height="2.00" stroke-width="0.30" fill="#111"/>
<rect x="1113.40" y="363.40" width="1.20" height="2.00" stroke-width="0.30" fill="#111"/>
<path d="M1081.3,372.7 V393.8 M1108.9,372.7 V393.8 M1086,372.7 V394.4 M1103,372.7 V394.4" stroke-width="1.00"/>
<path d="M1073.6000000000001,372.7 h11.2 v2.6 l-1.6,3.2 h-8 l-1.6,-3.2 z" stroke-width="1.10" fill="#fff"/>
<line x1="1077.20" y1="372.70" x2="1077.20" y2="378.50" stroke-width="0.80"/>
<line x1="1081.20" y1="372.70" x2="1081.20" y2="378.50" stroke-width="0.80"/>
<line x1="1074.70" y1="377.00" x2="1083.70" y2="377.00" stroke-width="0.70"/>
<path d="M1104.2,372.7 h11.2 v2.6 l-1.6,3.2 h-8 l-1.6,-3.2 z" stroke-width="1.10" fill="#fff"/>
<line x1="1107.80" y1="372.70" x2="1107.80" y2="378.50" stroke-width="0.80"/>
<line x1="1111.80" y1="372.70" x2="1111.80" y2="378.50" stroke-width="0.80"/>
<line x1="1105.30" y1="377.00" x2="1114.30" y2="377.00" stroke-width="0.70"/>
<circle cx="1094.50" cy="337.30" r="28.10" fill="#fff"/>
<circle cx="1094.50" cy="337.30" r="13.00" stroke-width="2.20"/>
<line x1="1065.40" y1="337.30" x2="1124.00" y2="337.30" stroke-width="0.90"/>
<path d="M1074.1999999999998,321.5 L1076.3999999999999,317.6 L1080.8,317.6 L1083.0,321.5 L1080.8,325.4 L1076.3999999999999,325.4 Z" stroke-width="0.60" fill="#111"/>
<path d="M1074.1999999999998,353.1 L1076.3999999999999,349.20000000000005 L1080.8,349.20000000000005 L1083.0,353.1 L1080.8,357.0 L1076.3999999999999,357.0 Z" stroke-width="0.60" fill="#111"/>
<path d="M1106.0,321.5 L1108.2,317.6 L1112.6000000000001,317.6 L1114.8000000000002,321.5 L1112.6000000000001,325.4 L1108.2,325.4 Z" stroke-width="0.60" fill="#111"/>
<path d="M1106.0,353.1 L1108.2,349.20000000000005 L1112.6000000000001,349.20000000000005 L1114.8000000000002,353.1 L1112.6000000000001,357.0 L1108.2,357.0 Z" stroke-width="0.60" fill="#111"/>
<path d="M1059.54,396.08 A155.39999999999998,155.39999999999998 0 0 1 1129.46,396.08" stroke-width="0.80"/>
<rect x="1094.50" y="183.80" width="18.00" height="21.30" fill="#fff" rx="1"/>
<text x="1104.0" y="199.1" font-size="15" text-anchor="middle" textLength="7.0" lengthAdjust="spacingAndGlyphs">А</text>
<rect x="1115.50" y="183.80" width="17.00" height="21.30" fill="#fff" rx="1"/>
<text x="1124.5" y="199.1" font-size="15" text-anchor="middle" textLength="7.0" lengthAdjust="spacingAndGlyphs">Б</text>
<rect x="1135.50" y="183.80" width="17.50" height="21.30" fill="#fff" rx="1"/>
<text x="1144.8" y="199.1" font-size="15" text-anchor="middle" textLength="7.5" lengthAdjust="spacingAndGlyphs">В</text>
<rect x="1155.50" y="183.80" width="16.50" height="21.30" fill="#fff" rx="1"/>
<text x="1164.2" y="199.1" font-size="15" text-anchor="middle" textLength="6.5" lengthAdjust="spacingAndGlyphs">Г</text>
<rect x="1174.50" y="183.80" width="18.50" height="21.30" fill="#fff" rx="1"/>
<text x="1184.2" y="199.1" font-size="15" text-anchor="middle" textLength="8.0" lengthAdjust="spacingAndGlyphs">Д</text>
<line x1="1289.50" y1="465.61" x2="1324.00" y2="465.61" stroke-width="0.80"/>
<rect x="1289.60" y="461.71" width="5.90" height="7.80" stroke-width="1.30" rx="2.8"/>
<rect x="1291.60" y="462.41" width="3.90" height="6.40" stroke-width="0.70" rx="1"/>
<rect x="1314.80" y="461.71" width="5.80" height="7.80" stroke-width="1.30" rx="2.4"/>
<rect x="1314.80" y="462.41" width="3.80" height="6.40" stroke-width="0.70" rx="1"/>
<rect x="1320.60" y="462.81" width="3.10" height="5.60" stroke-width="1.00" rx="1.5"/>
<line x1="1289.50" y1="471.19" x2="1324.00" y2="471.19" stroke-width="0.80"/>
<rect x="1289.60" y="467.29" width="5.90" height="7.80" stroke-width="1.30" rx="2.8"/>
<rect x="1291.60" y="467.99" width="3.90" height="6.40" stroke-width="0.70" rx="1"/>
<rect x="1314.80" y="467.29" width="5.80" height="7.80" stroke-width="1.30" rx="2.4"/>
<rect x="1314.80" y="467.99" width="3.80" height="6.40" stroke-width="0.70" rx="1"/>
<rect x="1320.60" y="468.39" width="3.10" height="5.60" stroke-width="1.00" rx="1.5"/>
<line x1="1289.50" y1="481.97" x2="1324.00" y2="481.97" stroke-width="0.80"/>
<rect x="1289.60" y="478.07" width="5.90" height="7.80" stroke-width="1.30" rx="2.8"/>
<rect x="1291.60" y="478.77" width="3.90" height="6.40" stroke-width="0.70" rx="1"/>
<rect x="1314.80" y="478.07" width="5.80" height="7.80" stroke-width="1.30" rx="2.4"/>
<rect x="1314.80" y="478.77" width="3.80" height="6.40" stroke-width="0.70" rx="1"/>
<rect x="1320.60" y="479.17" width="3.10" height="5.60" stroke-width="1.00" rx="1.5"/>
<line x1="1289.50" y1="497.22" x2="1324.00" y2="497.22" stroke-width="0.80"/>
<rect x="1289.60" y="493.32" width="5.90" height="7.80" stroke-width="1.30" rx="2.8"/>
<rect x="1291.60" y="494.02" width="3.90" height="6.40" stroke-width="0.70" rx="1"/>
<rect x="1314.80" y="493.32" width="5.80" height="7.80" stroke-width="1.30" rx="2.4"/>
<rect x="1314.80" y="494.02" width="3.80" height="6.40" stroke-width="0.70" rx="1"/>
<rect x="1320.60" y="494.42" width="3.10" height="5.60" stroke-width="1.00" rx="1.5"/>
<line x1="1289.50" y1="515.89" x2="1324.00" y2="515.89" stroke-width="0.80"/>
<rect x="1289.60" y="511.99" width="5.90" height="7.80" stroke-width="1.30" rx="2.8"/>
<rect x="1291.60" y="512.69" width="3.90" height="6.40" stroke-width="0.70" rx="1"/>
<rect x="1314.80" y="511.99" width="5.80" height="7.80" stroke-width="1.30" rx="2.4"/>
<rect x="1314.80" y="512.69" width="3.80" height="6.40" stroke-width="0.70" rx="1"/>
<rect x="1320.60" y="513.09" width="3.10" height="5.60" stroke-width="1.00" rx="1.5"/>
<line x1="1289.50" y1="536.72" x2="1324.00" y2="536.72" stroke-width="0.80"/>
<rect x="1289.60" y="532.82" width="5.90" height="7.80" stroke-width="1.30" rx="2.8"/>
<rect x="1291.60" y="533.52" width="3.90" height="6.40" stroke-width="0.70" rx="1"/>
<rect x="1314.80" y="532.82" width="5.80" height="7.80" stroke-width="1.30" rx="2.4"/>
<rect x="1314.80" y="533.52" width="3.80" height="6.40" stroke-width="0.70" rx="1"/>
<rect x="1320.60" y="533.92" width="3.10" height="5.60" stroke-width="1.00" rx="1.5"/>
<line x1="1289.50" y1="629.39" x2="1324.00" y2="629.39" stroke-width="0.80"/>
<rect x="1289.60" y="625.49" width="5.90" height="7.80" stroke-width="1.30" rx="2.8"/>
<rect x="1291.60" y="626.19" width="3.90" height="6.40" stroke-width="0.70" rx="1"/>
<rect x="1314.80" y="625.49" width="5.80" height="7.80" stroke-width="1.30" rx="2.4"/>
<rect x="1314.80" y="626.19" width="3.80" height="6.40" stroke-width="0.70" rx="1"/>
<rect x="1320.60" y="626.59" width="3.10" height="5.60" stroke-width="1.00" rx="1.5"/>
<line x1="1289.50" y1="623.81" x2="1324.00" y2="623.81" stroke-width="0.80"/>
<rect x="1289.60" y="619.91" width="5.90" height="7.80" stroke-width="1.30" rx="2.8"/>
<rect x="1291.60" y="620.61" width="3.90" height="6.40" stroke-width="0.70" rx="1"/>
<rect x="1314.80" y="619.91" width="5.80" height="7.80" stroke-width="1.30" rx="2.4"/>
<rect x="1314.80" y="620.61" width="3.80" height="6.40" stroke-width="0.70" rx="1"/>
<rect x="1320.60" y="621.01" width="3.10" height="5.60" stroke-width="1.00" rx="1.5"/>
<line x1="1289.50" y1="613.03" x2="1324.00" y2="613.03" stroke-width="0.80"/>
<rect x="1289.60" y="609.13" width="5.90" height="7.80" stroke-width="1.30" rx="2.8"/>
<rect x="1291.60" y="609.83" width="3.90" height="6.40" stroke-width="0.70" rx="1"/>
<rect x="1314.80" y="609.13" width="5.80" height="7.80" stroke-width="1.30" rx="2.4"/>
<rect x="1314.80" y="609.83" width="3.80" height="6.40" stroke-width="0.70" rx="1"/>
<rect x="1320.60" y="610.23" width="3.10" height="5.60" stroke-width="1.00" rx="1.5"/>
<line x1="1289.50" y1="597.78" x2="1324.00" y2="597.78" stroke-width="0.80"/>
<rect x="1289.60" y="593.88" width="5.90" height="7.80" stroke-width="1.30" rx="2.8"/>
<rect x="1291.60" y="594.58" width="3.90" height="6.40" stroke-width="0.70" rx="1"/>
<rect x="1314.80" y="593.88" width="5.80" height="7.80" stroke-width="1.30" rx="2.4"/>
<rect x="1314.80" y="594.58" width="3.80" height="6.40" stroke-width="0.70" rx="1"/>
<rect x="1320.60" y="594.98" width="3.10" height="5.60" stroke-width="1.00" rx="1.5"/>
<line x1="1289.50" y1="579.11" x2="1324.00" y2="579.11" stroke-width="0.80"/>
<rect x="1289.60" y="575.21" width="5.90" height="7.80" stroke-width="1.30" rx="2.8"/>
<rect x="1291.60" y="575.91" width="3.90" height="6.40" stroke-width="0.70" rx="1"/>
<rect x="1314.80" y="575.21" width="5.80" height="7.80" stroke-width="1.30" rx="2.4"/>
<rect x="1314.80" y="575.91" width="3.80" height="6.40" stroke-width="0.70" rx="1"/>
<rect x="1320.60" y="576.31" width="3.10" height="5.60" stroke-width="1.00" rx="1.5"/>
<line x1="1289.50" y1="558.28" x2="1324.00" y2="558.28" stroke-width="0.80"/>
<rect x="1289.60" y="554.38" width="5.90" height="7.80" stroke-width="1.30" rx="2.8"/>
<rect x="1291.60" y="555.08" width="3.90" height="6.40" stroke-width="0.70" rx="1"/>
<rect x="1314.80" y="554.38" width="5.80" height="7.80" stroke-width="1.30" rx="2.4"/>
<rect x="1314.80" y="555.08" width="3.80" height="6.40" stroke-width="0.70" rx="1"/>
<rect x="1320.60" y="555.48" width="3.10" height="5.60" stroke-width="1.00" rx="1.5"/>
<rect x="1295.50" y="458.60" width="11.20" height="177.80" fill="#fff" rx="1.2"/>
<rect x="1309.30" y="458.60" width="5.50" height="177.80" fill="#fff" rx="1.2"/>
<line x1="1307.90" y1="458.60" x2="1307.90" y2="636.40" stroke-width="1.80"/>
<line x1="1295.50" y1="465.61" x2="1314.80" y2="465.61" stroke-width="0.80"/>
<line x1="1295.50" y1="471.19" x2="1314.80" y2="471.19" stroke-width="0.80"/>
<line x1="1295.50" y1="481.97" x2="1314.80" y2="481.97" stroke-width="0.80"/>
<line x1="1295.50" y1="497.22" x2="1314.80" y2="497.22" stroke-width="0.80"/>
<line x1="1295.50" y1="515.89" x2="1314.80" y2="515.89" stroke-width="0.80"/>
<line x1="1295.50" y1="536.72" x2="1314.80" y2="536.72" stroke-width="0.80"/>
<line x1="1295.50" y1="629.39" x2="1314.80" y2="629.39" stroke-width="0.80"/>
<line x1="1295.50" y1="623.81" x2="1314.80" y2="623.81" stroke-width="0.80"/>
<line x1="1295.50" y1="613.03" x2="1314.80" y2="613.03" stroke-width="0.80"/>
<line x1="1295.50" y1="597.78" x2="1314.80" y2="597.78" stroke-width="0.80"/>
<line x1="1295.50" y1="579.11" x2="1314.80" y2="579.11" stroke-width="0.80"/>
<line x1="1295.50" y1="558.28" x2="1314.80" y2="558.28" stroke-width="0.80"/>
<path d="M1323.6,514.4 H1327.5 Q1335.6,514.4 1335.6,522.5 V572 Q1335.6,580 1327.5,580 H1323.6" stroke-width="1.00"/>
<path d="M1323.6,516.6 H1327 Q1333.4,516.6 1333.4,523 V571.5 Q1333.4,577.8 1327,577.8 H1323.6" stroke-width="0.70"/>
<path d="M1323.6,518.8 H1326.5 Q1331.3,518.8 1331.3,523.5 V571 Q1331.3,575.6 1326.5,575.6 H1323.6" stroke-width="0.90"/>
<path d="M1310.1,459 V436.5 M1312.5,459 V436.5" stroke-width="0.90"/>
<path d="M1310.1,436.5 A1.2,1.2 0 0 1 1312.5,436.5" stroke-width="0.80"/>
<path d="M1309.5,418 C1309.5,423 1300.2,426 1300.2,434.9 A11.3,11.3 0 0 0 1322.8,434.9 C1322.8,431.5 1321.5,428.8 1319.3,426.8" stroke-width="1.00"/>
<path d="M1314.3,418 C1314.3,425 1305,427.5 1305,434.9 A6.5,6.5 0 0 0 1318,434.9 C1318,433 1317.2,431.2 1315.8,430 L1319.3,426.8" stroke-width="1.00"/>
<rect x="1309.60" y="413.50" width="4.60" height="5.00" stroke-width="0.80"/>
<line x1="1311.10" y1="413.50" x2="1311.10" y2="418.50" stroke-width="0.60"/>
<line x1="1312.70" y1="413.50" x2="1312.70" y2="418.50" stroke-width="0.60"/>
<rect x="1304.70" y="398.00" width="6.50" height="8.40" stroke-width="1.00" fill="#fff" rx="1"/>
<line x1="1304.70" y1="402.00" x2="1311.20" y2="402.00" stroke-width="0.70"/>
<line x1="1308.00" y1="398.00" x2="1308.00" y2="402.00" stroke-width="0.70"/>
<rect x="1309.60" y="395.00" width="4.40" height="18.50" stroke-width="1.00" fill="#fff" rx="1.5"/>
<line x1="1311.80" y1="395.50" x2="1311.80" y2="406.00" stroke-width="1.60"/>
<rect x="1311.40" y="406.40" width="6.90" height="5.30" stroke-width="1.00" fill="#fff" rx="2"/>
<line x1="1315.60" y1="406.40" x2="1315.60" y2="411.70" stroke-width="0.70"/>
<rect x="1353.40" y="526.20" width="19.30" height="20.80" fill="#fff" rx="1"/>
<text x="1363.6" y="541.2" font-size="15" text-anchor="middle" textLength="9.5" lengthAdjust="spacingAndGlyphs">Ж</text>
<line x1="1094.50" y1="205.00" x2="1094.50" y2="400.00"/>
<line x1="1289.00" y1="547.50" x2="1353.40" y2="547.50"/>
<line x1="1346.80" y1="94.00" x2="2030.00" y2="94.00" stroke-width="1.20"/>
<line x1="1346.80" y1="131.80" x2="2030.00" y2="131.80" stroke-width="1.20"/>
<line x1="1346.80" y1="169.80" x2="2030.00" y2="169.80" stroke-width="1.20"/>
<line x1="1346.80" y1="207.90" x2="2030.00" y2="207.90" stroke-width="1.20"/>
<line x1="1346.80" y1="246.00" x2="2030.00" y2="246.00" stroke-width="1.20"/>
<line x1="1346.80" y1="283.70" x2="2030.00" y2="283.70" stroke-width="1.20"/>
<line x1="1346.80" y1="321.80" x2="2030.00" y2="321.80" stroke-width="1.20"/>
<line x1="1346.80" y1="359.70" x2="2030.00" y2="359.70" stroke-width="1.20"/>
<line x1="1346.80" y1="397.60" x2="2030.00" y2="397.60" stroke-width="1.20"/>
<line x1="1346.80" y1="94.00" x2="1346.80" y2="397.60" stroke-width="1.20"/>
<line x1="1499.70" y1="94.00" x2="1499.70" y2="397.60" stroke-width="1.20"/>
<line x1="1921.80" y1="94.00" x2="1921.80" y2="397.60" stroke-width="1.20"/>
<line x1="2030.00" y1="94.00" x2="2030.00" y2="397.60" stroke-width="1.20"/>
<text x="1708.6" y="70.4" font-size="33" text-anchor="middle" textLength="224.0" lengthAdjust="spacingAndGlyphs">Таблица штуцеров</text>
<text x="1422.0" y="122.5" font-size="26" text-anchor="middle" textLength="119.0" lengthAdjust="spacingAndGlyphs">Обозначение</text>
<text x="1709.6" y="122.5" font-size="26" text-anchor="middle" textLength="108.7" lengthAdjust="spacingAndGlyphs">Назначение</text>
<text x="1974.8" y="122.5" font-size="26" text-anchor="middle" textLength="66.0" lengthAdjust="spacingAndGlyphs">Кол-во</text>
<text x="1421.5" y="160.6" font-size="26" text-anchor="middle" textLength="11.5" lengthAdjust="spacingAndGlyphs">А</text>
<text x="1519.3" y="158.0" font-size="26" text-anchor="start" textLength="127.3" lengthAdjust="spacingAndGlyphs">Вход воздуха</text>
<text x="1972.6" y="161.0" font-size="26" text-anchor="middle" textLength="7.5" lengthAdjust="spacingAndGlyphs">1</text>
<text x="1421.5" y="198.6" font-size="26" text-anchor="middle" textLength="11.5" lengthAdjust="spacingAndGlyphs">Б</text>
<text x="1519.3" y="196.0" font-size="26" text-anchor="start" textLength="139.5" lengthAdjust="spacingAndGlyphs">Выход воздуха</text>
<text x="1972.6" y="199.0" font-size="26" text-anchor="middle" textLength="7.5" lengthAdjust="spacingAndGlyphs">1</text>
<text x="1421.5" y="236.7" font-size="26" text-anchor="middle" textLength="11.5" lengthAdjust="spacingAndGlyphs">В</text>
<text x="1519.3" y="234.1" font-size="26" text-anchor="start" textLength="326.0" lengthAdjust="spacingAndGlyphs">Для предохранительного клапана</text>
<text x="1972.6" y="237.1" font-size="26" text-anchor="middle" textLength="7.5" lengthAdjust="spacingAndGlyphs">1</text>
<text x="1421.5" y="274.8" font-size="26" text-anchor="middle" textLength="9.0" lengthAdjust="spacingAndGlyphs">Г</text>
<text x="1519.3" y="272.2" font-size="26" text-anchor="start" textLength="101.0" lengthAdjust="spacingAndGlyphs">Воздушник</text>
<text x="1972.6" y="275.2" font-size="26" text-anchor="middle" textLength="7.5" lengthAdjust="spacingAndGlyphs">1</text>
<text x="1421.5" y="312.5" font-size="26" text-anchor="middle" textLength="12.0" lengthAdjust="spacingAndGlyphs">Д</text>
<text x="1519.3" y="309.9" font-size="26" text-anchor="start" textLength="147.0" lengthAdjust="spacingAndGlyphs">Для манометра</text>
<text x="1972.6" y="312.9" font-size="26" text-anchor="middle" textLength="7.5" lengthAdjust="spacingAndGlyphs">1</text>
<text x="1421.5" y="350.6" font-size="26" text-anchor="middle" textLength="11.5" lengthAdjust="spacingAndGlyphs">Е</text>
<text x="1519.3" y="348.0" font-size="26" text-anchor="start" textLength="70.0" lengthAdjust="spacingAndGlyphs">Дренаж</text>
<text x="1972.6" y="351.0" font-size="26" text-anchor="middle" textLength="7.5" lengthAdjust="spacingAndGlyphs">1</text>
<text x="1421.5" y="388.5" font-size="26" text-anchor="middle" textLength="15.0" lengthAdjust="spacingAndGlyphs">Ж</text>
<text x="1519.3" y="385.9" font-size="26" text-anchor="start" textLength="79.0" lengthAdjust="spacingAndGlyphs">Люк-лаз</text>
<text x="1972.6" y="388.9" font-size="26" text-anchor="middle" textLength="7.5" lengthAdjust="spacingAndGlyphs">1</text>
</g><g fill="none" stroke="#111" stroke-width="1.35" stroke-linecap="butt" stroke-linejoin="round">
<path d="M140.1,1006.1 H128.3 A92.8,186.09999999999997 0 0 0 128.3,1378.3 H140.1"/>
<path d="M946.2,1006.1 H958 A92.3,186.09999999999997 0 0 1 958,1378.3 H946.2"/>
<line x1="140.10" y1="1006.10" x2="946.20" y2="1006.10"/>
<line x1="140.10" y1="1378.30" x2="946.20" y2="1378.30"/>
<line x1="140.10" y1="1006.10" x2="140.10" y2="1378.30" stroke-width="1.53"/>
<line x1="946.20" y1="1006.10" x2="946.20" y2="1378.30" stroke-width="1.53"/>
<line x1="689.20" y1="1006.10" x2="689.20" y2="1378.30" stroke-width="1.53"/>
<rect x="167.50" y="1013.90" width="165.20" height="356.10" stroke-width="1.42"/>
<rect x="204.20" y="1009.50" width="91.20" height="365.10" stroke-width="1.42" fill="#fff"/>
<line x1="231.00" y1="982.10" x2="268.80" y2="982.10" stroke-width="3.78"/>
<path d="M239.20000000000002,983.6 V1006.1 M260.6,983.6 V1006.1" stroke-width="1.30"/>
<path d="M225.9,1006.1 Q249.9,1000.5 273.9,1006.1 Q249.9,1011.3000000000001 225.9,1006.1 Z" stroke-width="1.06" fill="#fff"/>
<line x1="239.20" y1="1003.60" x2="260.60" y2="1003.60" stroke-width="0.94"/>
<line x1="231.00" y1="1402.50" x2="268.80" y2="1402.50" stroke-width="3.78"/>
<path d="M239.20000000000002,1378.3 V1401 M260.6,1378.3 V1401" stroke-width="1.30"/>
<path d="M225.9,1378.3 Q249.9,1383.8999999999999 273.9,1378.3 Q249.9,1373.1 225.9,1378.3 Z" stroke-width="1.06" fill="#fff"/>
<line x1="239.20" y1="1380.80" x2="260.60" y2="1380.80" stroke-width="0.94"/>
<line x1="249.50" y1="977.50" x2="249.50" y2="1406.50" stroke-width="1.42"/>
<circle cx="224.10" cy="1073.30" r="7.40" stroke-width="1.42"/>
<line x1="215.70" y1="1073.30" x2="232.50" y2="1073.30" stroke-width="0.94"/>
<line x1="224.10" y1="1064.40" x2="224.10" y2="1082.20" stroke-width="0.94"/>
<circle cx="275.50" cy="1073.30" r="7.40" stroke-width="1.42"/>
<line x1="267.10" y1="1073.30" x2="283.90" y2="1073.30" stroke-width="0.94"/>
<line x1="275.50" y1="1064.40" x2="275.50" y2="1082.20" stroke-width="0.94"/>
<path d="M217.5,1101.1 L220.79999999999998,1095.358 L227.4,1095.358 L230.7,1101.1 L227.4,1106.8419999999999 L220.79999999999998,1106.8419999999999 Z" stroke-width="0.59" fill="#111"/>
<circle cx="224.10" cy="1101.10" r="2.60" stroke-width="0.83" fill="none"/>
<circle cx="224.1" cy="1101.1" r="2.6" stroke="#999" stroke-width="0.7"/>
<circle cx="224.10" cy="1311.10" r="7.40" stroke-width="1.42"/>
<line x1="215.70" y1="1311.10" x2="232.50" y2="1311.10" stroke-width="0.94"/>
<line x1="224.10" y1="1302.20" x2="224.10" y2="1320.00" stroke-width="0.94"/>
<circle cx="275.50" cy="1311.10" r="7.40" stroke-width="1.42"/>
<line x1="267.10" y1="1311.10" x2="283.90" y2="1311.10" stroke-width="0.94"/>
<line x1="275.50" y1="1302.20" x2="275.50" y2="1320.00" stroke-width="0.94"/>
<path d="M268.9,1283.6 L272.2,1277.858 L278.8,1277.858 L282.1,1283.6 L278.8,1289.3419999999999 L272.2,1289.3419999999999 Z" stroke-width="0.59" fill="#111"/>
<circle cx="275.50" cy="1283.60" r="2.60" stroke-width="0.83" fill="none"/>
<circle cx="275.5" cy="1283.6" r="2.6" stroke="#999" stroke-width="0.7"/>
<rect x="753.60" y="1014.10" width="165.20" height="355.70" stroke-width="1.18"/>
<rect x="762.80" y="1006.10" width="146.30" height="372.20" stroke-width="1.18" fill="#fff"/>
<rect x="790.40" y="1009.50" width="92.10" height="365.50" stroke-width="1.30" fill="#fff"/>
<line x1="817.20" y1="982.10" x2="855.00" y2="982.10" stroke-width="3.78"/>
<path d="M825.4,983.6 V1006.1 M846.8000000000001,983.6 V1006.1" stroke-width="1.30"/>
<path d="M812.1,1006.1 Q836.1,1000.5 860.1,1006.1 Q836.1,1011.3000000000001 812.1,1006.1 Z" stroke-width="1.06" fill="#fff"/>
<line x1="825.40" y1="1003.60" x2="846.80" y2="1003.60" stroke-width="0.94"/>
<line x1="817.20" y1="1402.50" x2="855.00" y2="1402.50" stroke-width="3.78"/>
<path d="M825.4,1378.3 V1401 M846.8000000000001,1378.3 V1401" stroke-width="1.30"/>
<path d="M812.1,1378.3 Q836.1,1383.8999999999999 860.1,1378.3 Q836.1,1373.1 812.1,1378.3 Z" stroke-width="1.06" fill="#fff"/>
<line x1="825.40" y1="1380.80" x2="846.80" y2="1380.80" stroke-width="0.94"/>
<line x1="836.00" y1="977.50" x2="836.00" y2="1406.50" stroke-width="1.42"/>
<path d="M806.8,1047.2 L810.4,1043.6000000000001 L814.0,1047.2 L810.4,1050.8 Z" stroke-width="0.35" fill="#111"/>
<rect x="795.40" y="1066.30" width="30.00" height="13.80" stroke-width="1.18" rx="6.9"/>
<circle cx="810.40" cy="1073.20" r="6.10" stroke-width="1.42"/>
<line x1="802.90" y1="1073.20" x2="817.90" y2="1073.20" stroke-width="0.94"/>
<line x1="810.40" y1="1065.20" x2="810.40" y2="1081.20" stroke-width="0.94"/>
<rect x="795.40" y="1303.90" width="30.00" height="13.80" stroke-width="1.18" rx="6.9"/>
<circle cx="810.40" cy="1310.80" r="6.10" stroke-width="1.42"/>
<line x1="802.90" y1="1310.80" x2="817.90" y2="1310.80" stroke-width="0.94"/>
<line x1="810.40" y1="1302.80" x2="810.40" y2="1318.80" stroke-width="0.94"/>
<path d="M806.8,1336.3 L810.4,1332.7 L814.0,1336.3 L810.4,1339.8999999999999 Z" stroke-width="0.35" fill="#111"/>
<path d="M858.0,1047.2 L861.6,1043.6000000000001 L865.2,1047.2 L861.6,1050.8 Z" stroke-width="0.35" fill="#111"/>
<rect x="846.60" y="1066.30" width="30.00" height="13.80" stroke-width="1.18" rx="6.9"/>
<circle cx="861.60" cy="1073.20" r="6.10" stroke-width="1.42"/>
<line x1="854.10" y1="1073.20" x2="869.10" y2="1073.20" stroke-width="0.94"/>
<line x1="861.60" y1="1065.20" x2="861.60" y2="1081.20" stroke-width="0.94"/>
<rect x="846.60" y="1303.90" width="30.00" height="13.80" stroke-width="1.18" rx="6.9"/>
<circle cx="861.60" cy="1310.80" r="6.10" stroke-width="1.42"/>
<line x1="854.10" y1="1310.80" x2="869.10" y2="1310.80" stroke-width="0.94"/>
<line x1="861.60" y1="1302.80" x2="861.60" y2="1318.80" stroke-width="0.94"/>
<path d="M858.0,1336.3 L861.6,1332.7 L865.2,1336.3 L861.6,1339.8999999999999 Z" stroke-width="0.35" fill="#111"/>
<path d="M802.8,1100.4 L806.6,1093.788 L814.1999999999999,1093.788 L818.0,1100.4 L814.1999999999999,1107.0120000000002 L806.6,1107.0120000000002 Z" stroke-width="0.59" fill="#111"/>
<circle cx="810.40" cy="1100.40" r="2.60" stroke-width="0.83" fill="none"/>
<circle cx="810.4" cy="1100.4" r="2.6" stroke="#999" stroke-width="0.7"/>
<path d="M854.0,1283.3 L857.8000000000001,1276.6879999999999 L865.4,1276.6879999999999 L869.2,1283.3 L865.4,1289.912 L857.8000000000001,1289.912 Z" stroke-width="0.59" fill="#111"/>
<circle cx="861.60" cy="1283.30" r="2.60" stroke-width="0.83" fill="none"/>
<circle cx="861.6" cy="1283.3" r="2.6" stroke="#999" stroke-width="0.7"/>
<text x="719" y="1036" font-size="8.5" textLength="32" lengthAdjust="spacingAndGlyphs" style="fill:#333">4 отв</text>
<text x="882" y="1335.5" font-size="8.5" textLength="33" lengthAdjust="spacingAndGlyphs" style="fill:#555">4 пазо</text>
<line x1="35.00" y1="1192.20" x2="1051.50" y2="1192.20"/>
<line x1="129.00" y1="1192.20" x2="140.00" y2="1192.20" stroke-width="2.12"/>
<line x1="946.00" y1="1192.20" x2="957.00" y2="1192.20" stroke-width="2.12"/>
<path d="M311.9,1006.8 V994.7 Q311.9,993.3 313.3,993.3 H369.5 Q370.9,993.3 370.9,994.7 V1006.8" stroke-width="1.53"/>
<line x1="314.50" y1="993.40" x2="368.50" y2="993.40" stroke-width="2.36"/>
<rect x="311.20" y="1003.00" width="2.20" height="5.00" stroke-width="0.35" fill="#111"/>
<rect x="369.40" y="1003.00" width="2.20" height="5.00" stroke-width="0.35" fill="#111"/>
<path d="M382.70,1006.90 L388.70,1010.70 L394.69,1014.39 L400.69,1017.95 L406.68,1021.37 L412.68,1024.64 L418.67,1027.77 L424.67,1030.73 L430.66,1033.52 L436.66,1036.14 L442.65,1038.56 L448.65,1040.79 L454.64,1042.81 L460.64,1044.61 L466.63,1046.20 L472.62,1047.55 L478.62,1048.67 L484.62,1049.54 L490.61,1050.17 L496.61,1050.55 L502.60,1050.67 L508.60,1050.55 L514.59,1050.17 L520.59,1049.54 L526.58,1048.67 L532.58,1047.55 L538.57,1046.20 L544.57,1044.61 L550.56,1042.81 L556.56,1040.79 L562.55,1038.56 L568.55,1036.14 L574.54,1033.52 L580.54,1030.73 L586.53,1027.77 L592.52,1024.64 L598.52,1021.37 L604.51,1017.95 L610.51,1014.39 L616.50,1010.70 L622.50,1006.90 Z" fill="#fff" stroke="none"/>
<path d="M382.70,1006.90 L388.70,1010.70 L394.69,1014.39 L400.69,1017.95 L406.68,1021.37 L412.68,1024.64 L418.67,1027.77 L424.67,1030.73 L430.66,1033.52 L436.66,1036.14 L442.65,1038.56 L448.65,1040.79 L454.64,1042.81 L460.64,1044.61 L466.63,1046.20 L472.62,1047.55 L478.62,1048.67 L484.62,1049.54 L490.61,1050.17 L496.61,1050.55 L502.60,1050.67 L508.60,1050.55 L514.59,1050.17 L520.59,1049.54 L526.58,1048.67 L532.58,1047.55 L538.57,1046.20 L544.57,1044.61 L550.56,1042.81 L556.56,1040.79 L562.55,1038.56 L568.55,1036.14 L574.54,1033.52 L580.54,1030.73 L586.53,1027.77 L592.52,1024.64 L598.52,1021.37 L604.51,1017.95 L610.51,1014.39 L616.50,1010.70 L622.50,1006.90" stroke-width="1.06"/>
<path d="M385.40,1006.53 L391.26,1010.20 L397.12,1013.75 L402.98,1017.17 L408.84,1020.46 L414.70,1023.62 L420.56,1026.62 L426.42,1029.47 L432.28,1032.15 L438.14,1034.66 L444.00,1036.98 L449.86,1039.11 L455.72,1041.05 L461.58,1042.78 L467.44,1044.29 L473.30,1045.59 L479.16,1046.65 L485.02,1047.49 L490.88,1048.09 L496.74,1048.45 L502.60,1048.57 L508.46,1048.45 L514.32,1048.09 L520.18,1047.49 L526.04,1046.65 L531.90,1045.59 L537.76,1044.29 L543.62,1042.78 L549.48,1041.05 L555.34,1039.11 L561.20,1036.98 L567.06,1034.66 L572.92,1032.15 L578.78,1029.47 L584.64,1026.62 L590.50,1023.62 L596.36,1020.46 L602.22,1017.17 L608.08,1013.75 L613.94,1010.20 L619.80,1006.53" stroke-width="1.06"/>
<rect x="383.40000000000003" y="1002.5" width="238.4" height="4.6" fill="#fff" stroke="none"/>
<line x1="383.00" y1="1003.10" x2="417.30" y2="1003.10" stroke-width="1.18"/>
<line x1="588.50" y1="1003.10" x2="621.60" y2="1003.10" stroke-width="1.18"/>
<path d="M382.40000000000003,1006.5 L383.6,1003.1 M622.8000000000001,1006.5 L621.6,1003.1" stroke-width="1.06"/>
<path d="M382.40000000000003,1006.5 l2.6,-2.8 M622.8000000000001,1006.5 l-2.6,-2.8" stroke-width="0.94"/>
<path d="M417.30,1003.04 L421.58,1004.92 L425.86,1006.73 L430.14,1008.45 L434.42,1010.09 L438.70,1011.64 L442.98,1013.11 L447.26,1014.48 L451.54,1015.76 L455.82,1016.95 L460.10,1018.04 L464.38,1019.03 L468.66,1019.92 L472.94,1020.71 L477.22,1021.40 L481.50,1021.98 L485.78,1022.45 L490.06,1022.82 L494.34,1023.09 L498.62,1023.24 L502.90,1023.29 L507.18,1023.23 L511.46,1023.06 L515.74,1022.78 L520.02,1022.39 L524.30,1021.90 L528.58,1021.31 L532.86,1020.61 L537.14,1019.80 L541.42,1018.90 L545.70,1017.89 L549.98,1016.79 L554.26,1015.59 L558.54,1014.30 L562.82,1012.91 L567.10,1011.43 L571.38,1009.86 L575.66,1008.21 L579.94,1006.48 L584.22,1004.66 L588.50,1002.76" stroke-width="2.24"/>
<line x1="417.30" y1="956.00" x2="417.30" y2="1003.20" stroke-width="1.30"/>
<line x1="588.50" y1="956.00" x2="588.50" y2="971.00" stroke-width="1.30"/>
<line x1="588.50" y1="996.60" x2="588.50" y2="1003.20" stroke-width="1.30"/>
<rect x="394.50" y="924.80" width="217.50" height="6.20" stroke-width="1.42" fill="#fff" rx="2.4"/>
<rect x="394.50" y="934.60" width="217.50" height="9.40" stroke-width="1.42" fill="#fff" rx="2.4"/>
<line x1="396.00" y1="932.80" x2="610.50" y2="932.80" stroke-width="2.01"/>
<path d="M483.2168545857748,924.8 V918.5 Q483.2168545857748,912.8 489.4168545857748,912.8 Q495.6168545857748,912.8 495.6168545857748,918.5 V924.8" stroke-width="2.48" fill="#fff"/>
<path d="M483.2168545857748,944 V950 Q483.2168545857748,955.6 489.4168545857748,955.6 Q495.6168545857748,955.6 495.6168545857748,950 V944" stroke-width="2.48" fill="#fff"/>
<rect x="486.22" y="916.80" width="6.40" height="8.00" stroke-width="1.77" rx="1.6"/>
<rect x="486.22" y="944.00" width="6.40" height="7.80" stroke-width="1.77" rx="1.6"/>
<line x1="484.22" y1="920.50" x2="494.62" y2="920.50" stroke-width="1.06"/>
<line x1="484.22" y1="948.30" x2="494.62" y2="948.30" stroke-width="1.06"/>
<line x1="489.42" y1="913.00" x2="489.42" y2="924.80" stroke-width="0.94"/>
<line x1="489.42" y1="944.00" x2="489.42" y2="955.40" stroke-width="0.94"/>
<line x1="488.12" y1="924.80" x2="488.12" y2="944.00" stroke-width="1.06"/>
<line x1="490.72" y1="924.80" x2="490.72" y2="944.00" stroke-width="1.06"/>
<path d="M509.58314541422527,924.8 V918.5 Q509.58314541422527,912.8 515.7831454142253,912.8 Q521.9831454142253,912.8 521.9831454142253,918.5 V924.8" stroke-width="2.48" fill="#fff"/>
<path d="M509.58314541422527,944 V950 Q509.58314541422527,955.6 515.7831454142253,955.6 Q521.9831454142253,955.6 521.9831454142253,950 V944" stroke-width="2.48" fill="#fff"/>
<rect x="512.58" y="916.80" width="6.40" height="8.00" stroke-width="1.77" rx="1.6"/>
<rect x="512.58" y="944.00" width="6.40" height="7.80" stroke-width="1.77" rx="1.6"/>
<line x1="510.58" y1="920.50" x2="520.98" y2="920.50" stroke-width="1.06"/>
<line x1="510.58" y1="948.30" x2="520.98" y2="948.30" stroke-width="1.06"/>
<line x1="515.78" y1="913.00" x2="515.78" y2="924.80" stroke-width="0.94"/>
<line x1="515.78" y1="944.00" x2="515.78" y2="955.40" stroke-width="0.94"/>
<line x1="514.48" y1="924.80" x2="514.48" y2="944.00" stroke-width="1.06"/>
<line x1="517.08" y1="924.80" x2="517.08" y2="944.00" stroke-width="1.06"/>
<path d="M457.74897333112597,924.8 V918.5 Q457.74897333112597,912.8 463.94897333112596,912.8 Q470.14897333112594,912.8 470.14897333112594,918.5 V924.8" stroke-width="2.48" fill="#fff"/>
<path d="M457.74897333112597,944 V950 Q457.74897333112597,955.6 463.94897333112596,955.6 Q470.14897333112594,955.6 470.14897333112594,950 V944" stroke-width="2.48" fill="#fff"/>
<rect x="460.75" y="916.80" width="6.40" height="8.00" stroke-width="1.77" rx="1.6"/>
<rect x="460.75" y="944.00" width="6.40" height="7.80" stroke-width="1.77" rx="1.6"/>
<line x1="458.75" y1="920.50" x2="469.15" y2="920.50" stroke-width="1.06"/>
<line x1="458.75" y1="948.30" x2="469.15" y2="948.30" stroke-width="1.06"/>
<line x1="463.95" y1="913.00" x2="463.95" y2="924.80" stroke-width="0.94"/>
<line x1="463.95" y1="944.00" x2="463.95" y2="955.40" stroke-width="0.94"/>
<line x1="462.65" y1="924.80" x2="462.65" y2="944.00" stroke-width="1.06"/>
<line x1="465.25" y1="924.80" x2="465.25" y2="944.00" stroke-width="1.06"/>
<path d="M535.0510266688741,924.8 V918.5 Q535.0510266688741,912.8 541.2510266688741,912.8 Q547.4510266688742,912.8 547.4510266688742,918.5 V924.8" stroke-width="2.48" fill="#fff"/>
<path d="M535.0510266688741,944 V950 Q535.0510266688741,955.6 541.2510266688741,955.6 Q547.4510266688742,955.6 547.4510266688742,950 V944" stroke-width="2.48" fill="#fff"/>
<rect x="538.05" y="916.80" width="6.40" height="8.00" stroke-width="1.77" rx="1.6"/>
<rect x="538.05" y="944.00" width="6.40" height="7.80" stroke-width="1.77" rx="1.6"/>
<line x1="536.05" y1="920.50" x2="546.45" y2="920.50" stroke-width="1.06"/>
<line x1="536.05" y1="948.30" x2="546.45" y2="948.30" stroke-width="1.06"/>
<line x1="541.25" y1="913.00" x2="541.25" y2="924.80" stroke-width="0.94"/>
<line x1="541.25" y1="944.00" x2="541.25" y2="955.40" stroke-width="0.94"/>
<line x1="539.95" y1="924.80" x2="539.95" y2="944.00" stroke-width="1.06"/>
<line x1="542.55" y1="924.80" x2="542.55" y2="944.00" stroke-width="1.06"/>
<path d="M434.91509567011923,924.8 V918.5 Q434.91509567011923,912.8 441.1150956701192,912.8 Q447.3150956701192,912.8 447.3150956701192,918.5 V924.8" stroke-width="2.48" fill="#fff"/>
<path d="M434.91509567011923,944 V950 Q434.91509567011923,955.6 441.1150956701192,955.6 Q447.3150956701192,955.6 447.3150956701192,950 V944" stroke-width="2.48" fill="#fff"/>
<rect x="437.92" y="916.80" width="6.40" height="8.00" stroke-width="1.77" rx="1.6"/>
<rect x="437.92" y="944.00" width="6.40" height="7.80" stroke-width="1.77" rx="1.6"/>
<line x1="435.92" y1="920.50" x2="446.32" y2="920.50" stroke-width="1.06"/>
<line x1="435.92" y1="948.30" x2="446.32" y2="948.30" stroke-width="1.06"/>
<line x1="441.12" y1="913.00" x2="441.12" y2="924.80" stroke-width="0.94"/>
<line x1="441.12" y1="944.00" x2="441.12" y2="955.40" stroke-width="0.94"/>
<line x1="439.82" y1="924.80" x2="439.82" y2="944.00" stroke-width="1.06"/>
<line x1="442.42" y1="924.80" x2="442.42" y2="944.00" stroke-width="1.06"/>
<path d="M557.8849043298808,924.8 V918.5 Q557.8849043298808,912.8 564.0849043298808,912.8 Q570.2849043298809,912.8 570.2849043298809,918.5 V924.8" stroke-width="2.48" fill="#fff"/>
<path d="M557.8849043298808,944 V950 Q557.8849043298808,955.6 564.0849043298808,955.6 Q570.2849043298809,955.6 570.2849043298809,950 V944" stroke-width="2.48" fill="#fff"/>
<rect x="560.88" y="916.80" width="6.40" height="8.00" stroke-width="1.77" rx="1.6"/>
<rect x="560.88" y="944.00" width="6.40" height="7.80" stroke-width="1.77" rx="1.6"/>
<line x1="558.88" y1="920.50" x2="569.28" y2="920.50" stroke-width="1.06"/>
<line x1="558.88" y1="948.30" x2="569.28" y2="948.30" stroke-width="1.06"/>
<line x1="564.08" y1="913.00" x2="564.08" y2="924.80" stroke-width="0.94"/>
<line x1="564.08" y1="944.00" x2="564.08" y2="955.40" stroke-width="0.94"/>
<line x1="562.78" y1="924.80" x2="562.78" y2="944.00" stroke-width="1.06"/>
<line x1="565.38" y1="924.80" x2="565.38" y2="944.00" stroke-width="1.06"/>
<path d="M416.27131263058527,924.8 V918.5 Q416.27131263058527,912.8 422.47131263058526,912.8 Q428.67131263058525,912.8 428.67131263058525,918.5 V924.8" stroke-width="2.48" fill="#fff"/>
<path d="M416.27131263058527,944 V950 Q416.27131263058527,955.6 422.47131263058526,955.6 Q428.67131263058525,955.6 428.67131263058525,950 V944" stroke-width="2.48" fill="#fff"/>
<rect x="419.27" y="916.80" width="6.40" height="8.00" stroke-width="1.77" rx="1.6"/>
<rect x="419.27" y="944.00" width="6.40" height="7.80" stroke-width="1.77" rx="1.6"/>
<line x1="417.27" y1="920.50" x2="427.67" y2="920.50" stroke-width="1.06"/>
<line x1="417.27" y1="948.30" x2="427.67" y2="948.30" stroke-width="1.06"/>
<line x1="422.47" y1="913.00" x2="422.47" y2="924.80" stroke-width="0.94"/>
<line x1="422.47" y1="944.00" x2="422.47" y2="955.40" stroke-width="0.94"/>
<line x1="421.17" y1="924.80" x2="421.17" y2="944.00" stroke-width="1.06"/>
<line x1="423.77" y1="924.80" x2="423.77" y2="944.00" stroke-width="1.06"/>
<path d="M576.5286873694147,924.8 V918.5 Q576.5286873694147,912.8 582.7286873694147,912.8 Q588.9286873694148,912.8 588.9286873694148,918.5 V924.8" stroke-width="2.48" fill="#fff"/>
<path d="M576.5286873694147,944 V950 Q576.5286873694147,955.6 582.7286873694147,955.6 Q588.9286873694148,955.6 588.9286873694148,950 V944" stroke-width="2.48" fill="#fff"/>
<rect x="579.53" y="916.80" width="6.40" height="8.00" stroke-width="1.77" rx="1.6"/>
<rect x="579.53" y="944.00" width="6.40" height="7.80" stroke-width="1.77" rx="1.6"/>
<line x1="577.53" y1="920.50" x2="587.93" y2="920.50" stroke-width="1.06"/>
<line x1="577.53" y1="948.30" x2="587.93" y2="948.30" stroke-width="1.06"/>
<line x1="582.73" y1="913.00" x2="582.73" y2="924.80" stroke-width="0.94"/>
<line x1="582.73" y1="944.00" x2="582.73" y2="955.40" stroke-width="0.94"/>
<line x1="581.43" y1="924.80" x2="581.43" y2="944.00" stroke-width="1.06"/>
<line x1="584.03" y1="924.80" x2="584.03" y2="944.00" stroke-width="1.06"/>
<path d="M403.0881672163601,924.8 V918.5 Q403.0881672163601,912.8 409.2881672163601,912.8 Q415.48816721636007,912.8 415.48816721636007,918.5 V924.8" stroke-width="2.48" fill="#fff"/>
<path d="M403.0881672163601,944 V950 Q403.0881672163601,955.6 409.2881672163601,955.6 Q415.48816721636007,955.6 415.48816721636007,950 V944" stroke-width="2.48" fill="#fff"/>
<rect x="406.09" y="916.80" width="6.40" height="8.00" stroke-width="1.77" rx="1.6"/>
<rect x="406.09" y="944.00" width="6.40" height="7.80" stroke-width="1.77" rx="1.6"/>
<line x1="404.09" y1="920.50" x2="414.49" y2="920.50" stroke-width="1.06"/>
<line x1="404.09" y1="948.30" x2="414.49" y2="948.30" stroke-width="1.06"/>
<line x1="409.29" y1="913.00" x2="409.29" y2="924.80" stroke-width="0.94"/>
<line x1="409.29" y1="944.00" x2="409.29" y2="955.40" stroke-width="0.94"/>
<line x1="407.99" y1="924.80" x2="407.99" y2="944.00" stroke-width="1.06"/>
<line x1="410.59" y1="924.80" x2="410.59" y2="944.00" stroke-width="1.06"/>
<path d="M589.7118327836399,924.8 V918.5 Q589.7118327836399,912.8 595.91183278364,912.8 Q602.11183278364,912.8 602.11183278364,918.5 V924.8" stroke-width="2.48" fill="#fff"/>
<path d="M589.7118327836399,944 V950 Q589.7118327836399,955.6 595.91183278364,955.6 Q602.11183278364,955.6 602.11183278364,950 V944" stroke-width="2.48" fill="#fff"/>
<rect x="592.71" y="916.80" width="6.40" height="8.00" stroke-width="1.77" rx="1.6"/>
<rect x="592.71" y="944.00" width="6.40" height="7.80" stroke-width="1.77" rx="1.6"/>
<line x1="590.71" y1="920.50" x2="601.11" y2="920.50" stroke-width="1.06"/>
<line x1="590.71" y1="948.30" x2="601.11" y2="948.30" stroke-width="1.06"/>
<line x1="595.91" y1="913.00" x2="595.91" y2="924.80" stroke-width="0.94"/>
<line x1="595.91" y1="944.00" x2="595.91" y2="955.40" stroke-width="0.94"/>
<line x1="594.61" y1="924.80" x2="594.61" y2="944.00" stroke-width="1.06"/>
<line x1="597.21" y1="924.80" x2="597.21" y2="944.00" stroke-width="1.06"/>
<path d="M396.2640690012452,924.8 V918.5 Q396.2640690012452,912.8 402.4640690012452,912.8 Q408.6640690012452,912.8 408.6640690012452,918.5 V924.8" stroke-width="2.48" fill="#fff"/>
<path d="M396.2640690012452,944 V950 Q396.2640690012452,955.6 402.4640690012452,955.6 Q408.6640690012452,955.6 408.6640690012452,950 V944" stroke-width="2.48" fill="#fff"/>
<rect x="399.26" y="916.80" width="6.40" height="8.00" stroke-width="1.77" rx="1.6"/>
<rect x="399.26" y="944.00" width="6.40" height="7.80" stroke-width="1.77" rx="1.6"/>
<line x1="397.26" y1="920.50" x2="407.66" y2="920.50" stroke-width="1.06"/>
<line x1="397.26" y1="948.30" x2="407.66" y2="948.30" stroke-width="1.06"/>
<line x1="402.46" y1="913.00" x2="402.46" y2="924.80" stroke-width="0.94"/>
<line x1="402.46" y1="944.00" x2="402.46" y2="955.40" stroke-width="0.94"/>
<line x1="401.16" y1="924.80" x2="401.16" y2="944.00" stroke-width="1.06"/>
<line x1="403.76" y1="924.80" x2="403.76" y2="944.00" stroke-width="1.06"/>
<path d="M596.5359309987548,924.8 V918.5 Q596.5359309987548,912.8 602.7359309987548,912.8 Q608.9359309987549,912.8 608.9359309987549,918.5 V924.8" stroke-width="2.48" fill="#fff"/>
<path d="M596.5359309987548,944 V950 Q596.5359309987548,955.6 602.7359309987548,955.6 Q608.9359309987549,955.6 608.9359309987549,950 V944" stroke-width="2.48" fill="#fff"/>
<rect x="599.54" y="916.80" width="6.40" height="8.00" stroke-width="1.77" rx="1.6"/>
<rect x="599.54" y="944.00" width="6.40" height="7.80" stroke-width="1.77" rx="1.6"/>
<line x1="597.54" y1="920.50" x2="607.94" y2="920.50" stroke-width="1.06"/>
<line x1="597.54" y1="948.30" x2="607.94" y2="948.30" stroke-width="1.06"/>
<line x1="602.74" y1="913.00" x2="602.74" y2="924.80" stroke-width="0.94"/>
<line x1="602.74" y1="944.00" x2="602.74" y2="955.40" stroke-width="0.94"/>
<line x1="601.44" y1="924.80" x2="601.44" y2="944.00" stroke-width="1.06"/>
<line x1="604.04" y1="924.80" x2="604.04" y2="944.00" stroke-width="1.06"/>
<rect x="429.10" y="902.80" width="6.60" height="21.60" stroke-width="1.18" fill="#fff"/>
<line x1="431.20" y1="904.00" x2="431.20" y2="924.00" stroke-width="0.94" stroke="#444"/>
<line x1="433.60" y1="904.00" x2="433.60" y2="924.00" stroke-width="0.94" stroke="#444"/>
<path d="M428.0,903 L432.4,897.6 L436.79999999999995,903 Z" stroke-width="0.59" fill="#111"/>
<rect x="568.60" y="902.80" width="6.60" height="21.60" stroke-width="1.18" fill="#fff"/>
<line x1="570.70" y1="904.00" x2="570.70" y2="924.00" stroke-width="0.94" stroke="#444"/>
<line x1="573.10" y1="904.00" x2="573.10" y2="924.00" stroke-width="0.94" stroke="#444"/>
<path d="M567.5,903 L571.9,897.6 L576.3,903 Z" stroke-width="0.59" fill="#111"/>
<rect x="499.30" y="916.00" width="5.70" height="8.80" stroke-width="0.94" fill="#fff"/>
<path d="M498.6,916.5 L502.2,912.5 L505.6,916.5 Z" stroke-width="0.35" fill="#111"/>
<line x1="502.40" y1="879.60" x2="502.40" y2="1051.00"/>
<circle cx="502.60" cy="1040.40" r="2.30" stroke-width="0.35" fill="#111"/>
<rect x="502.30" y="853.20" width="23.30" height="26.30" stroke-width="1.77" fill="#fff" rx="1"/>
<text x="514.5" y="872.1" font-size="18" text-anchor="middle" textLength="11.0" lengthAdjust="spacingAndGlyphs">Ж</text>
<rect x="581.30" y="970.90" width="36.50" height="25.70" stroke-width="1.53" fill="#fff" rx="1"/>
<circle cx="599.70" cy="983.90" r="8.20" stroke-width="2.83"/>
<circle cx="599.70" cy="983.90" r="4.80" stroke-width="1.30"/>
<line x1="593.50" y1="983.80" x2="606.00" y2="983.80" stroke-width="0.94"/>
<line x1="599.80" y1="977.50" x2="599.80" y2="990.00" stroke-width="0.94"/>
<line x1="598.00" y1="1064.00" x2="598.00" y2="1160.50" stroke-width="1.30"/>
<rect x="597.70" y="1038.40" width="20.40" height="25.80" stroke-width="1.65" fill="#fff" rx="1"/>
<text x="608.4" y="1057.0" font-size="18" text-anchor="middle" textLength="8.0" lengthAdjust="spacingAndGlyphs">Е</text>
<rect x="589.70" y="1078.00" width="16.00" height="5.40" stroke-width="1.53" rx="1.2"/>
<rect x="592.00" y="1079.30" width="4.20" height="3.10" stroke-width="0.94"/>
<rect x="599.60" y="1079.30" width="4.20" height="3.10" stroke-width="0.94"/>
<rect x="591.10" y="1083.40" width="13.40" height="20.10" stroke-width="1.42"/>
<path d="M591.1,1088 Q585,1095.5 591.1,1103 M604.5,1088 Q610.6,1095.5 604.5,1103" stroke-width="1.65"/>
<path d="M591.1,1091 L587,1095.5 L591.1,1100 M604.5,1091 L608.6,1095.5 L604.5,1100" stroke-width="1.06"/>
<rect x="589.70" y="1103.50" width="16.00" height="5.40" stroke-width="1.53" rx="1.2"/>
<rect x="592.00" y="1104.60" width="4.20" height="3.20" stroke-width="0.94"/>
<rect x="599.60" y="1104.60" width="4.20" height="3.20" stroke-width="0.94"/>
<rect x="588.50" y="1108.90" width="19.50" height="3.30" stroke-width="1.53" rx="1.4"/>
<rect x="591.20" y="1113.00" width="13.80" height="9.50" stroke-width="1.42" rx="2.5"/>
<rect x="593.00" y="1115.00" width="4.00" height="6.00" stroke-width="0.83" rx="1.2"/>
<rect x="599.40" y="1115.00" width="4.00" height="6.00" stroke-width="0.83" rx="1.2"/>
<rect x="592.00" y="1122.50" width="11.90" height="7.10" stroke-width="1.30"/>
<line x1="595.50" y1="1122.50" x2="595.50" y2="1129.60" stroke-width="0.83"/>
<line x1="600.60" y1="1122.50" x2="600.60" y2="1129.60" stroke-width="0.83"/>
<path d="M591.4,1129.6 V1192 A6.55,7 0 0 0 604.5,1192 V1129.6" stroke-width="1.53"/>
<line x1="591.40" y1="1159.30" x2="604.50" y2="1159.30" stroke-width="1.53"/>
<line x1="598.00" y1="1184.00" x2="598.00" y2="1199.60" stroke-width="1.06"/>
</g><g fill="none" stroke="#111" stroke-width="1.2" stroke-linecap="butt" stroke-linejoin="round">
</g><g fill="none" stroke="#27383a" stroke-width="0.9" stroke-linejoin="round">
<path d="M1316,1371.4 L1381.9,1431.6 L1454.2,1427.2 L1436,1411 L1351,1371 Z" stroke-width="0.80" fill="#a5b8bb"/>
<path d="M1316,1371.4 L1381.9,1431.6 L1381.9,1434.4 L1316,1374.2 Z" stroke-width="0.70" fill="#6f8184"/>
<path d="M1381.9,1431.6 L1454.2,1427.2 V1429.8 L1381.9,1434.4 Z" stroke-width="0.70" fill="#8fa3a6"/>
<ellipse cx="1342.5" cy="1379" rx="4" ry="1.8" fill="#93a7aa" stroke-width="0.6"/>
<path d="M1318.4,1352 V1372 L1351,1372 V1352 Z" stroke-width="0.90" fill="#c6dcdf"/>
<path d="M1351,1352 V1398.7 H1381.6 V1352 Z" stroke-width="0.90" fill="#c9dfe2"/>
<rect x="1377.50" y="1405.00" width="4.10" height="11.00" stroke-width="0.50" fill="#e8f1f2"/>
<path d="M1744.6,1357.8 L1812.1,1418.4 L1925,1412.2 L1902.8,1394 L1800,1352 Z" stroke-width="0.80" fill="#8c9fa2"/>
<path d="M1744.6,1357.8 L1812.1,1418.4 V1421.2 L1744.6,1360.6 Z" stroke-width="0.70" fill="#6f8184"/>
<path d="M1812.1,1418.4 L1925,1412.2 V1414.9 L1812.1,1421.2 Z" stroke-width="0.70" fill="#8fa3a6"/>
<path d="M1766.7,1330 V1355.7 L1799.4,1357 V1330 Z" stroke-width="0.90" fill="#c6dcdf"/>
<path d="M1799.4,1330 V1382 L1831.1,1397 V1330 Z" stroke-width="0.90" fill="#c9dfe2"/>
<ellipse cx="1789" cy="1358.5" rx="3.2" ry="1.3" fill="#5f7073" stroke-width="0.5"/>
<rect x="1826.50" y="1388.00" width="4.30" height="12.00" stroke-width="0.50" fill="#e8f1f2"/>
<path d="M1299.4,1062.2 C1258,1058 1218,1100 1217.2,1190 C1217.4,1265 1250,1345 1304.3,1354.3 L1313,1353.9 C1332,1302 1343,1250 1337,1200 C1333,1140 1318,1095 1299.4,1062.2 Z" fill="url(#gHeadL)"/>
<g clip-path="url(#cHeadL)" stroke="none"><ellipse cx="1318.5" cy="1207" rx="5" ry="21" fill="#fff" filter="url(#blur3)"/><ellipse cx="1300" cy="1272.5" rx="6" ry="23" fill="#fff" filter="url(#blur3)"/><ellipse cx="1309" cy="1116" rx="5" ry="24" fill="#f2f9f9" filter="url(#blur3)" opacity="0.95" transform="rotate(-12 1309 1116)"/><ellipse cx="1296" cy="1190" rx="16" ry="110" fill="#d6e7e9" filter="url(#blur6)" opacity="0.55"/></g>
<path d="M1920.4,1038.5 C1950,1036 1985,1085 2000,1140 C2012,1190 2008,1250 1990,1281 C1975,1310 1955,1328 1933.5,1329.8 C1950,1295 1959,1240 1956.5,1185 C1953,1130 1940,1075 1920.4,1038.5 Z" fill="url(#gHeadR)"/>
<g clip-path="url(#cHeadR)" stroke="none"><ellipse cx="1979" cy="1194" rx="4" ry="36" fill="#fff" filter="url(#blur3)" opacity="0.95"/><ellipse cx="1968" cy="1150" rx="9" ry="80" fill="#d3e3e3" filter="url(#blur6)" opacity="0.7" transform="rotate(-6 1968 1150)"/></g>
<path d="M1299.4,1062.2 L1920.4,1038.5 C1940,1075 1953,1130 1956.5,1185 C1959,1240 1950,1295 1933.5,1329.8 L1313,1353.9 C1332,1302 1343,1250 1337,1200 C1333,1140 1318,1095 1299.4,1062.2 Z" fill="url(#gBody)"/>
<path d="M1294,1061.9 C1312,1095 1325,1140 1328.5,1200 C1333,1252 1328,1302 1307,1353.8" stroke-width="0.90"/>
<path d="M1926.5,1038.2 C1946,1075 1958.5,1130 1962,1185 C1964.5,1240 1957,1295 1941,1329.5" stroke-width="0.90"/>
<path d="M1719,1046 C1742,1090 1757,1140 1756.5,1195 C1756,1250 1747,1300 1731.9,1337.8" stroke-width="1.00"/>
<path d="M1355.8,1286 L1482.7,1280.9 C1481,1305 1474,1335 1459,1351.9 L1323.7,1355.6 C1340,1350 1350,1328 1355.8,1286 Z" stroke-width="1.20" fill="#c2d9dc"/>
<path d="M1381.6,1300.3 L1453.1,1296.7 V1426.8 L1381.6,1431.2 Z" stroke-width="1.20" fill="url(#gLeg)"/>
<line x1="1381.60" y1="1428.30" x2="1453.10" y2="1424.00" stroke-width="0.70"/>
<path d="M1804.7,1269.2 L1932.3,1263.9 C1931,1290 1925,1315 1915.5,1330 L1780.4,1337.8 C1794,1320 1802,1295 1804.7,1269.2 Z" stroke-width="1.20" fill="#c2d9dc"/>
<path d="M1831.1,1281.9 L1902.8,1279.7 V1412.7 L1831.1,1416.2 Z" stroke-width="1.20" fill="url(#gLeg)"/>
<line x1="1831.10" y1="1413.00" x2="1902.80" y2="1409.70" stroke-width="0.70"/>
<circle cx="1421.50" cy="1235.40" r="20.00" stroke-width="0.80"/>
<circle cx="1425.20" cy="1239.30" r="14.30" stroke-width="1.10" fill="#c6dbde"/>
<circle cx="1870.10" cy="1218.60" r="20.00" stroke-width="0.80"/>
<circle cx="1874.90" cy="1222.40" r="14.30" stroke-width="1.10" fill="#c6dbde"/>
<rect x="1469.70" y="1216.80" width="45.40" height="35.90" stroke-width="0.90" fill="#6a7d80"/>
<rect x="1472.90" y="1219.30" width="40.10" height="31.30" stroke-width="0.80" fill="#fdfefe"/>
<path d="M1617,1128.7 C1590,1127 1560,1140 1543,1164 C1528,1186 1523,1210 1523.2,1230 C1523.5,1250 1531,1272 1551,1292.7 C1560,1302 1568,1307 1577,1311 L1640,1300 L1698,1188 C1694,1166 1670,1145 1641.8,1132.8 Z" stroke-width="1.10" fill="#c2d8db"/>
<path d="M1641.8,1106.5 L1663.3,1102.2 C1684,1099 1693,1113 1693,1133 V1188" stroke-width="8.40" stroke="#42555a"/>
<path d="M1641.8,1106.5 L1663.3,1102.2 C1684,1099 1693,1113 1693,1133 V1188" stroke-width="6.40" stroke="#dce9eb"/>
<path d="M1662.5,1098.2 L1664,1106.2 M1689,1141 H1697" stroke-width="0.80"/>
<ellipse cx="1627.2" cy="1240.3" rx="85" ry="82.6" fill="#93a9ac" stroke-width="1.3"/>
<ellipse cx="1628.8" cy="1240.4" rx="83.6" ry="82.2" stroke-width="0.7"/>
<circle cx="1630.80" cy="1240.60" r="81.60" stroke-width="0.90" fill="#c6dbde"/>
<circle cx="1640.75" cy="1165.46" r="5.00" stroke-width="0.30" fill="#15191a"/>
<circle cx="1641.05" cy="1165.66" r="1.90" stroke-width="0.20" fill="#aab6b8"/>
<circle cx="1660.17" cy="1170.65" r="5.00" stroke-width="0.30" fill="#15191a"/>
<circle cx="1660.47" cy="1170.85" r="1.90" stroke-width="0.20" fill="#aab6b8"/>
<circle cx="1677.57" cy="1180.67" r="5.00" stroke-width="0.30" fill="#15191a"/>
<circle cx="1677.87" cy="1180.87" r="1.90" stroke-width="0.20" fill="#aab6b8"/>
<circle cx="1691.79" cy="1194.85" r="5.00" stroke-width="0.30" fill="#15191a"/>
<circle cx="1692.09" cy="1195.05" r="1.90" stroke-width="0.20" fill="#aab6b8"/>
<circle cx="1701.84" cy="1212.21" r="5.00" stroke-width="0.30" fill="#15191a"/>
<circle cx="1702.14" cy="1212.41" r="1.90" stroke-width="0.20" fill="#aab6b8"/>
<circle cx="1707.04" cy="1231.58" r="5.00" stroke-width="0.30" fill="#15191a"/>
<circle cx="1707.34" cy="1231.78" r="1.90" stroke-width="0.20" fill="#aab6b8"/>
<circle cx="1707.04" cy="1251.62" r="5.00" stroke-width="0.30" fill="#15191a"/>
<circle cx="1707.34" cy="1251.82" r="1.90" stroke-width="0.20" fill="#aab6b8"/>
<circle cx="1701.84" cy="1270.99" r="5.00" stroke-width="0.30" fill="#15191a"/>
<circle cx="1702.14" cy="1271.19" r="1.90" stroke-width="0.20" fill="#aab6b8"/>
<circle cx="1691.79" cy="1288.35" r="5.00" stroke-width="0.30" fill="#15191a"/>
<circle cx="1692.09" cy="1288.55" r="1.90" stroke-width="0.20" fill="#aab6b8"/>
<circle cx="1677.57" cy="1302.53" r="5.00" stroke-width="0.30" fill="#15191a"/>
<circle cx="1677.87" cy="1302.73" r="1.90" stroke-width="0.20" fill="#aab6b8"/>
<circle cx="1660.17" cy="1312.55" r="5.00" stroke-width="0.30" fill="#15191a"/>
<circle cx="1660.47" cy="1312.75" r="1.90" stroke-width="0.20" fill="#aab6b8"/>
<circle cx="1640.75" cy="1317.74" r="5.00" stroke-width="0.30" fill="#15191a"/>
<circle cx="1641.05" cy="1317.94" r="1.90" stroke-width="0.20" fill="#aab6b8"/>
<circle cx="1620.65" cy="1317.74" r="5.00" stroke-width="0.30" fill="#15191a"/>
<circle cx="1620.95" cy="1317.94" r="1.90" stroke-width="0.20" fill="#aab6b8"/>
<circle cx="1601.23" cy="1312.55" r="5.00" stroke-width="0.30" fill="#15191a"/>
<circle cx="1601.53" cy="1312.75" r="1.90" stroke-width="0.20" fill="#aab6b8"/>
<circle cx="1583.83" cy="1302.53" r="5.00" stroke-width="0.30" fill="#15191a"/>
<circle cx="1584.13" cy="1302.73" r="1.90" stroke-width="0.20" fill="#aab6b8"/>
<circle cx="1569.61" cy="1288.35" r="5.00" stroke-width="0.30" fill="#15191a"/>
<circle cx="1569.91" cy="1288.55" r="1.90" stroke-width="0.20" fill="#aab6b8"/>
<circle cx="1559.56" cy="1270.99" r="5.00" stroke-width="0.30" fill="#15191a"/>
<circle cx="1559.86" cy="1271.19" r="1.90" stroke-width="0.20" fill="#aab6b8"/>
<circle cx="1554.36" cy="1251.62" r="5.00" stroke-width="0.30" fill="#15191a"/>
<circle cx="1554.66" cy="1251.82" r="1.90" stroke-width="0.20" fill="#aab6b8"/>
<circle cx="1554.36" cy="1231.58" r="5.00" stroke-width="0.30" fill="#15191a"/>
<circle cx="1554.66" cy="1231.78" r="1.90" stroke-width="0.20" fill="#aab6b8"/>
<circle cx="1559.56" cy="1212.21" r="5.00" stroke-width="0.30" fill="#15191a"/>
<circle cx="1559.86" cy="1212.41" r="1.90" stroke-width="0.20" fill="#aab6b8"/>
<circle cx="1569.61" cy="1194.85" r="5.00" stroke-width="0.30" fill="#15191a"/>
<circle cx="1569.91" cy="1195.05" r="1.90" stroke-width="0.20" fill="#aab6b8"/>
<circle cx="1583.83" cy="1180.67" r="5.00" stroke-width="0.30" fill="#15191a"/>
<circle cx="1584.13" cy="1180.87" r="1.90" stroke-width="0.20" fill="#aab6b8"/>
<circle cx="1601.23" cy="1170.65" r="5.00" stroke-width="0.30" fill="#15191a"/>
<circle cx="1601.53" cy="1170.85" r="1.90" stroke-width="0.20" fill="#aab6b8"/>
<circle cx="1620.65" cy="1165.46" r="5.00" stroke-width="0.30" fill="#15191a"/>
<circle cx="1620.95" cy="1165.66" r="1.90" stroke-width="0.20" fill="#aab6b8"/>
<path d="M1581,1217.8 V1270.8" stroke-width="3.20" stroke="#7f9396"/>
<path d="M1581,1217.8 V1270.8" stroke-width="2.00" stroke="#e1eced"/>
<path d="M1578.4,1213.8 l3.4,-1.6 l1.2,5 M1578.4,1273.8 l3.4,1.6 l1.2,-5" stroke-width="1.10" stroke="#5c6f72"/>
<path d="M1687.2,1213.7 V1266.7" stroke-width="3.20" stroke="#7f9396"/>
<path d="M1687.2,1213.7 V1266.7" stroke-width="2.00" stroke="#e1eced"/>
<path d="M1684.6000000000001,1209.7 l3.4,-1.6 l1.2,5 M1684.6000000000001,1269.7 l3.4,1.6 l1.2,-5" stroke-width="1.10" stroke="#5c6f72"/>
<path d="M1618,1156.7 V1140 L1623.5,1133.7 H1636.5 L1641.8,1140 V1156.7 Z" stroke-width="1.10" fill="#c6dbde"/>
<circle cx="1629.60" cy="1146.00" r="5.00" stroke-width="1.20" fill="#dce9ea"/>
<line x1="1630.30" y1="1113.00" x2="1630.30" y2="1145.00" stroke-width="2.60" stroke="#7c8f92"/>
<line x1="1630.30" y1="1113.00" x2="1630.30" y2="1145.00" stroke-width="1.20" stroke="#d6e3e5"/>
<path d="M1618.8,1113.2 L1641.8,1106.8" stroke-width="3.60" stroke="#3f4f53"/>
<line x1="1631.00" y1="1098.00" x2="1631.00" y2="1114.50" stroke-width="3.40" stroke="#3f4f53"/>
<path d="M1450.9,1058.2 C1450.9,1064.772 1467.5,1068.8 1484.5,1067.5 C1501.5,1066.1999999999998 1518.1,1062.1719999999998 1518.1,1055.6 Z" stroke-width="1.00" fill="#a9bdc0"/>
<rect x="1471.80" y="1043.50" width="25.40" height="14.70" stroke-width="0.80" fill="url(#gPipe)"/>
<path d="M1471.8,1058.2 a12.7,2.6 0 0 0 25.4,0" stroke-width="0.80" fill="#d3e3e5"/>
<path d="M1466.5,1039.5 l1.6,4 l2.2,-0.6 l0.6,-3.4 z" stroke-width="0.60" fill="#55666a"/>
<path d="M1501.5,1039.5 l1.6,4 l2.2,-0.6 l0.6,-3.4 z" stroke-width="0.60" fill="#55666a"/>
<path d="M1455.7,1032.0 v4.6 a28.8,7.6 0 0 0 57.6,0 v-4.6 Z" stroke-width="0.90" fill="url(#gFl)"/>
<ellipse cx="1484.5" cy="1032.0" rx="28.8" ry="7.6" fill="#b4c8cb" stroke-width="0.9"/>
<path d="M1455.7,1025.0 v4.6 a28.8,7.6 0 0 0 57.6,0 v-4.6 Z" stroke-width="0.90" fill="url(#gFl)"/>
<ellipse cx="1484.5" cy="1025.0" rx="28.8" ry="7.6" fill="#b4c8cb" stroke-width="0.9"/>
<ellipse cx="1484.5" cy="1024.1" rx="15.5" ry="3.7" fill="#dcebed" stroke-width="0.9"/>
<circle cx="1464.70" cy="1017.20" r="3.10" stroke-width="0.70" fill="#5a6b6f"/>
<circle cx="1465.10" cy="1016.80" r="1.40" stroke-width="0.01" fill="#e6f0f1"/>
<circle cx="1496.80" cy="1015.80" r="3.10" stroke-width="0.70" fill="#5a6b6f"/>
<circle cx="1497.20" cy="1015.40" r="1.40" stroke-width="0.01" fill="#e6f0f1"/>
<circle cx="1472.20" cy="1024.70" r="3.10" stroke-width="0.70" fill="#5a6b6f"/>
<circle cx="1472.60" cy="1024.30" r="1.40" stroke-width="0.01" fill="#e6f0f1"/>
<circle cx="1504.30" cy="1022.60" r="3.10" stroke-width="0.70" fill="#5a6b6f"/>
<circle cx="1504.70" cy="1022.20" r="1.40" stroke-width="0.01" fill="#e6f0f1"/>
<path d="M1844.5,1040.4 C1844.5,1049.0800000000002 1861.1,1054.4 1878.1,1053.9 C1895.1,1053.4 1911.6999999999998,1048.0800000000002 1911.6999999999998,1039.4 Z" stroke-width="1.00" fill="#a9bdc0"/>
<rect x="1865.20" y="1027.20" width="25.80" height="17.10" stroke-width="0.80" fill="url(#gPipe)"/>
<path d="M1865.1999999999998,1044.3 a12.9,2.6 0 0 0 25.8,0" stroke-width="0.80" fill="#d3e3e5"/>
<path d="M1860.1,1021.8 l1.6,4 l2.2,-0.6 l0.6,-3.4 z" stroke-width="0.60" fill="#55666a"/>
<path d="M1895.1,1021.8 l1.6,4 l2.2,-0.6 l0.6,-3.4 z" stroke-width="0.60" fill="#55666a"/>
<path d="M1849.3,1014.3 v4.6 a28.8,7.6 0 0 0 57.6,0 v-4.6 Z" stroke-width="0.90" fill="url(#gFl)"/>
<ellipse cx="1878.1" cy="1014.3" rx="28.8" ry="7.6" fill="#b4c8cb" stroke-width="0.9"/>
<path d="M1849.3,1007.3 v4.6 a28.8,7.6 0 0 0 57.6,0 v-4.6 Z" stroke-width="0.90" fill="url(#gFl)"/>
<ellipse cx="1878.1" cy="1007.3" rx="28.8" ry="7.6" fill="#b4c8cb" stroke-width="0.9"/>
<ellipse cx="1878.1" cy="1006.4" rx="15.5" ry="3.7" fill="#dcebed" stroke-width="0.9"/>
<circle cx="1858.30" cy="999.50" r="3.10" stroke-width="0.70" fill="#5a6b6f"/>
<circle cx="1858.70" cy="999.10" r="1.40" stroke-width="0.01" fill="#e6f0f1"/>
<circle cx="1890.40" cy="998.10" r="3.10" stroke-width="0.70" fill="#5a6b6f"/>
<circle cx="1890.80" cy="997.70" r="1.40" stroke-width="0.01" fill="#e6f0f1"/>
<circle cx="1865.80" cy="1007.00" r="3.10" stroke-width="0.70" fill="#5a6b6f"/>
<circle cx="1866.20" cy="1006.60" r="1.40" stroke-width="0.01" fill="#e6f0f1"/>
<circle cx="1897.90" cy="1004.90" r="3.10" stroke-width="0.70" fill="#5a6b6f"/>
<circle cx="1898.30" cy="1004.50" r="1.40" stroke-width="0.01" fill="#e6f0f1"/>
<rect x="1324.50" y="1045.00" width="16.20" height="20.50" stroke-width="0.80" fill="url(#gPipe)"/>
<path d="M1319.9,1045 l2.4,6.4 l2.6,-6.6 z" stroke-width="0.80" fill="#56676a"/>
<path d="M1345.4,1045 l2.4,6.4 l2.6,-6.6 z" stroke-width="0.80" fill="#56676a"/>
<path d="M1310.4,1037.6 v4.2 a22.9,4.6 0 0 0 45.8,0 v-4.2 Z" stroke-width="1.00" fill="url(#gFl)"/>
<ellipse cx="1333.3" cy="1037.6" rx="22.9" ry="4.6" fill="#8a9da0" stroke-width="1.0"/>
<path d="M1310.4,1031 v4.2 a22.9,4.6 0 0 0 45.8,0 v-4.2 Z" stroke-width="1.00" fill="url(#gFl)"/>
<ellipse cx="1333.3" cy="1031" rx="22.9" ry="4.6" fill="#5f7073" stroke-width="1.0"/>
<circle cx="1320.30" cy="1030.72" r="2.00" stroke-width="0.80" fill="#d4e1e3"/>
<circle cx="1329.30" cy="1030.36" r="2.00" stroke-width="0.80" fill="#d4e1e3"/>
<circle cx="1342.30" cy="1030.56" r="2.00" stroke-width="0.80" fill="#d4e1e3"/>
<circle cx="1350.30" cy="1030.88" r="2.00" stroke-width="0.80" fill="#d4e1e3"/>
<path d="M1305,998.2 H1322.6 V1023.8 H1305 Z" stroke-width="0.90" fill="#9aacb1"/>
<g transform="rotate(-3 1295 1011.6)"><ellipse cx="1300.3" cy="1011.6" rx="6.2" ry="26" fill="#7d8f93" stroke-width="1.0"/><ellipse cx="1297.2" cy="1011.6" rx="6.2" ry="26.2" fill="#c3d3d6" stroke-width="1.0"/><ellipse cx="1293" cy="1011.6" rx="6.2" ry="26.2" fill="#5f7073" stroke-width="1.0"/><ellipse cx="1290.2" cy="1011.6" rx="6" ry="26" fill="#9fb2b6" stroke-width="1.0"/><ellipse cx="1289.4" cy="1011.6" rx="3.3" ry="15.5" fill="#cddcde" stroke-width="0.9"/></g>
<circle cx="1282.50" cy="993.20" r="2.40" stroke-width="0.80" fill="#3f4e51"/>
<circle cx="1282.50" cy="1023.20" r="2.40" stroke-width="0.80" fill="#3f4e51"/>
<circle cx="1308.80" cy="999.40" r="2.40" stroke-width="0.80" fill="#cfdcde"/>
<circle cx="1308.80" cy="1028.20" r="2.40" stroke-width="0.80" fill="#cfdcde"/>
<rect x="1318.80" y="987.60" width="29.20" height="39.80" stroke-width="0.90" fill="url(#gValve2)"/>
<rect x="1343.50" y="988.00" width="3.90" height="39.00" stroke-width="0.01" fill="#c2d0d3"/>
<path d="M1322.6,998.2 Q1336,1011 1322.6,1023.8" stroke-width="0.90" fill="#93a5a9"/>
<rect x="1316.00" y="973.00" width="35.00" height="14.60" stroke-width="0.90" fill="#b6c6c9" rx="1.5"/>
<ellipse cx="1333.5" cy="973.5" rx="17.5" ry="2.2" fill="#8c9da0" stroke-width="0.8"/>
<rect x="1322.00" y="936.50" width="23.90" height="37.10" stroke-width="0.90" fill="url(#gValve2)"/>
<ellipse cx="1334" cy="936.8" rx="12" ry="1.8" fill="#7f9093" stroke-width="0.8"/>
<rect x="1326.90" y="916.50" width="14.20" height="20.00" stroke-width="0.90" fill="url(#gValve2)" rx="1.5"/>
<ellipse cx="1334" cy="917" rx="7" ry="1.5" fill="#7c8d90" stroke-width="0.5"/>
<rect x="1609.50" y="1030.00" width="8.20" height="24.00" stroke-width="0.70" fill="url(#gPipe)"/>
<rect x="1606.80" y="1021.00" width="14.40" height="10.00" stroke-width="0.70" fill="#6b6648" rx="1"/>
<rect x="1607.40" y="1001.00" width="13.40" height="21.00" stroke-width="0.70" fill="#d6ba6c" rx="1"/>
<rect x="1607.00" y="999.30" width="14.20" height="4.20" stroke-width="0.70" fill="#9d8546" rx="1.5"/>
<rect x="1620.80" y="1006.00" width="11.70" height="11.00" stroke-width="0.70" fill="#c57a44" rx="1"/>
<ellipse cx="1637.3" cy="1011.5" rx="3.4" ry="9" fill="#8c2a2c" stroke="#5d1a1c" stroke-width="0.7"/>
<rect x="1749.60" y="1030.00" width="8.60" height="19.00" stroke-width="0.70" fill="url(#gPipe)"/>
<rect x="1750.50" y="1006.50" width="8.20" height="24.50" stroke-width="0.70" fill="#d1b566" rx="1"/>
<rect x="1749.80" y="1026.50" width="9.50" height="5.30" stroke-width="0.60" fill="#5d5a44" rx="1"/>
<circle cx="1755.10" cy="1021.00" r="3.80" stroke-width="0.60" fill="#6e2325"/>
<ellipse cx="1746.3" cy="1020.5" rx="1.9" ry="4.6" fill="#7b7445" stroke-width="0.7"/>
<line x1="1748.00" y1="1020.50" x2="1751.00" y2="1020.50" stroke-width="1.40" stroke="#6b6648"/>
<circle cx="1753.8" cy="981.6" r="23" stroke="#111" stroke-width="1.6"/>
<circle cx="1756.6" cy="982" r="23" fill="#fff" stroke="#111" stroke-width="2"/>
<line x1="1746.50" y1="1000.00" x2="1759.70" y2="977.40" stroke-width="1.50" stroke="#111"/>
<path d="M1652.5,1341 V1368 C1652.8,1378 1655.5,1383.5 1660.5,1386.5" stroke-width="9.60" stroke="#6f8487"/>
<path d="M1652.5,1341 V1368 C1652.8,1378 1655.5,1383.5 1660.5,1386.5" stroke-width="8.00" stroke="#d6e6e9"/>
<line x1="1647.80" y1="1355.00" x2="1657.30" y2="1355.00" stroke-width="0.90" stroke="#6f8487"/>
<path d="M1653.5,1384.5 L1659.5,1380.2 L1663.5,1386 L1657.5,1390.4 Z" stroke-width="0.70" fill="#8fa1a4"/>
<ellipse cx="1669.7" cy="1372.4" rx="9.2" ry="2.5" fill="#6e1c24" stroke="#3e0f14" stroke-width="0.7"/>
<rect x="1668.90" y="1369.20" width="1.60" height="2.00" stroke-width="0.30" fill="#b9b08a"/>
<rect x="1665.60" y="1377.00" width="8.90" height="11.30" stroke-width="0.50" fill="#3a2a1e" rx="1.5"/>
<rect x="1666.80" y="1378.40" width="6.50" height="9.20" stroke-width="0.40" fill="#c8632f"/>
<line x1="1666.80" y1="1382.00" x2="1673.30" y2="1382.00" stroke-width="0.80" stroke="#e9b48c"/>
<line x1="1666.80" y1="1385.00" x2="1673.30" y2="1385.00" stroke-width="0.80" stroke="#e9b48c"/>
<path d="M1659.5,1389 L1664,1386.5 L1668,1388.5 V1400 L1663.5,1402 L1659.5,1398 Z" stroke-width="0.60" fill="#4a4630"/>
<circle cx="1671.60" cy="1397.00" r="7.20" stroke-width="0.60" fill="#2b2a20"/>
<circle cx="1671.80" cy="1397.20" r="3.40" stroke-width="0.40" fill="#6a6850"/>
<circle cx="1672.00" cy="1397.40" r="1.60" stroke-width="0.20" fill="#b8b8a8"/>
</g><g fill="none" stroke="#111" stroke-width="1.2" stroke-linecap="butt" stroke-linejoin="round">
</g>
</svg>
</body></html>
